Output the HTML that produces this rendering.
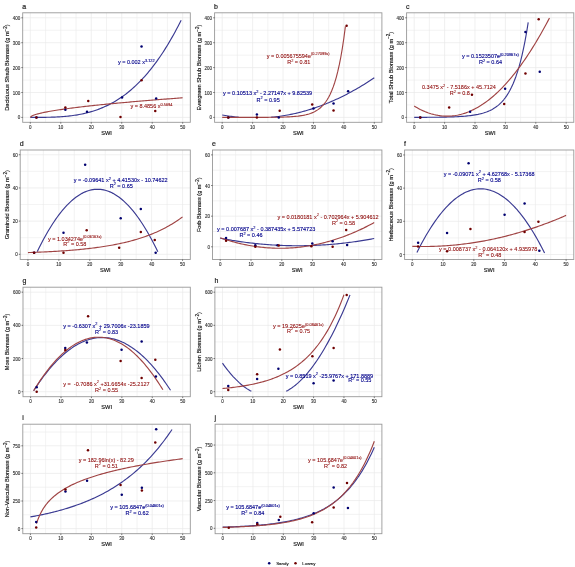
<!DOCTYPE html>
<html><head><meta charset="utf-8"><style>
html,body{margin:0;padding:0;background:#fff;}
body{width:575px;height:567px;overflow:hidden;font-family:"Liberation Sans", sans-serif;}
svg{display:block;filter:blur(0.4px);}
text{font-family:"Liberation Sans", sans-serif;}
</style></head><body>
<svg width="575" height="567" viewBox="0 0 575 567" font-family='"Liberation Sans", sans-serif'><clipPath id="ca"><rect x="22.70" y="12.80" width="167.60" height="109.50"/></clipPath>
<g stroke="#e9e9e9"><line x1="22.70" x2="190.30" y1="117.40" y2="117.40" stroke-width="0.7"/><line x1="22.70" x2="190.30" y1="104.95" y2="104.95" stroke-width="0.55"/><line x1="22.70" x2="190.30" y1="92.50" y2="92.50" stroke-width="0.7"/><line x1="22.70" x2="190.30" y1="80.05" y2="80.05" stroke-width="0.55"/><line x1="22.70" x2="190.30" y1="67.60" y2="67.60" stroke-width="0.7"/><line x1="22.70" x2="190.30" y1="55.15" y2="55.15" stroke-width="0.55"/><line x1="22.70" x2="190.30" y1="42.70" y2="42.70" stroke-width="0.7"/><line x1="22.70" x2="190.30" y1="30.25" y2="30.25" stroke-width="0.55"/><line x1="22.70" x2="190.30" y1="17.80" y2="17.80" stroke-width="0.7"/><line y1="12.80" y2="122.30" x1="30.32" x2="30.32" stroke-width="0.7"/><line y1="12.80" y2="122.30" x1="45.55" x2="45.55" stroke-width="0.55"/><line y1="12.80" y2="122.30" x1="60.79" x2="60.79" stroke-width="0.7"/><line y1="12.80" y2="122.30" x1="76.03" x2="76.03" stroke-width="0.55"/><line y1="12.80" y2="122.30" x1="91.26" x2="91.26" stroke-width="0.7"/><line y1="12.80" y2="122.30" x1="106.50" x2="106.50" stroke-width="0.55"/><line y1="12.80" y2="122.30" x1="121.74" x2="121.74" stroke-width="0.7"/><line y1="12.80" y2="122.30" x1="136.97" x2="136.97" stroke-width="0.55"/><line y1="12.80" y2="122.30" x1="152.21" x2="152.21" stroke-width="0.7"/><line y1="12.80" y2="122.30" x1="167.45" x2="167.45" stroke-width="0.55"/><line y1="12.80" y2="122.30" x1="182.68" x2="182.68" stroke-width="0.7"/></g>
<path d="M30.32,117.40 L31.84,117.40 L33.37,117.40 L34.89,117.40 L36.41,117.40 L37.94,117.39 L39.46,117.38 L40.98,117.38 L42.51,117.36 L44.03,117.35 L45.55,117.32 L47.08,117.30 L48.60,117.27 L50.13,117.23 L51.65,117.18 L53.17,117.13 L54.70,117.07 L56.22,117.00 L57.74,116.93 L59.27,116.84 L60.79,116.74 L62.31,116.63 L63.84,116.51 L65.36,116.38 L66.89,116.23 L68.41,116.08 L69.93,115.90 L71.46,115.72 L72.98,115.51 L74.50,115.30 L76.03,115.06 L77.55,114.81 L79.07,114.54 L80.60,114.25 L82.12,113.94 L83.65,113.62 L85.17,113.27 L86.69,112.90 L88.22,112.51 L89.74,112.09 L91.26,111.66 L92.79,111.20 L94.31,110.71 L95.83,110.20 L97.36,109.67 L98.88,109.11 L100.41,108.52 L101.93,107.90 L103.45,107.26 L104.98,106.58 L106.50,105.88 L108.02,105.14 L109.55,104.38 L111.07,103.58 L112.59,102.75 L114.12,101.88 L115.64,100.98 L117.17,100.05 L118.69,99.08 L120.21,98.08 L121.74,97.04 L123.26,95.96 L124.78,94.84 L126.31,93.69 L127.83,92.49 L129.35,91.26 L130.88,89.98 L132.40,88.66 L133.93,87.30 L135.45,85.90 L136.97,84.45 L138.50,82.96 L140.02,81.42 L141.54,79.84 L143.07,78.21 L144.59,76.53 L146.11,74.81 L147.64,73.04 L149.16,71.21 L150.69,69.34 L152.21,67.41 L153.73,65.44 L155.26,63.41 L156.78,61.32 L158.30,59.19 L159.83,57.00 L161.35,54.75 L162.87,52.45 L164.40,50.09 L165.92,47.67 L167.45,45.20 L168.97,42.66 L170.49,40.07 L172.02,37.41 L173.54,34.70 L175.06,31.92 L176.59,29.08 L178.11,26.17 L179.63,23.21 L181.16,20.17" fill="none" stroke="#3a3a92" stroke-width="1.15" stroke-linejoin="round" clip-path="url(#ca)"/>
<path d="M30.32,117.40 L31.84,115.98 L33.37,115.29 L34.89,114.74 L36.41,114.26 L37.94,113.84 L39.46,113.45 L40.98,113.09 L42.51,112.75 L44.03,112.42 L45.55,112.12 L47.08,111.82 L48.60,111.54 L50.13,111.27 L51.65,111.00 L53.17,110.75 L54.70,110.50 L56.22,110.25 L57.74,110.02 L59.27,109.79 L60.79,109.56 L62.31,109.34 L63.84,109.12 L65.36,108.91 L66.89,108.70 L68.41,108.50 L69.93,108.30 L71.46,108.10 L72.98,107.91 L74.50,107.71 L76.03,107.52 L77.55,107.34 L79.07,107.16 L80.60,106.97 L82.12,106.80 L83.65,106.62 L85.17,106.44 L86.69,106.27 L88.22,106.10 L89.74,105.93 L91.26,105.77 L92.79,105.60 L94.31,105.44 L95.83,105.28 L97.36,105.12 L98.88,104.96 L100.41,104.80 L101.93,104.65 L103.45,104.49 L104.98,104.34 L106.50,104.19 L108.02,104.04 L109.55,103.89 L111.07,103.75 L112.59,103.60 L114.12,103.45 L115.64,103.31 L117.17,103.17 L118.69,103.03 L120.21,102.89 L121.74,102.75 L123.26,102.61 L124.78,102.47 L126.31,102.33 L127.83,102.20 L129.35,102.06 L130.88,101.93 L132.40,101.80 L133.93,101.66 L135.45,101.53 L136.97,101.40 L138.50,101.27 L140.02,101.14 L141.54,101.01 L143.07,100.89 L144.59,100.76 L146.11,100.63 L147.64,100.51 L149.16,100.38 L150.69,100.26 L152.21,100.14 L153.73,100.02 L155.26,99.89 L156.78,99.77 L158.30,99.65 L159.83,99.53 L161.35,99.41 L162.87,99.29 L164.40,99.18 L165.92,99.06 L167.45,98.94 L168.97,98.82 L170.49,98.71 L172.02,98.59 L173.54,98.48 L175.06,98.36 L176.59,98.25 L178.11,98.14 L179.63,98.02 L181.16,97.91 L182.68,97.80" fill="none" stroke="#a04444" stroke-width="1.15" stroke-linejoin="round" clip-path="url(#ca)"/>
<circle cx="36.41" cy="117.40" r="1.25" fill="#000070"/>
<circle cx="65.36" cy="109.68" r="1.25" fill="#000070"/>
<circle cx="87.00" cy="111.67" r="1.25" fill="#000070"/>
<circle cx="122.04" cy="97.48" r="1.25" fill="#000070"/>
<circle cx="141.54" cy="46.44" r="1.25" fill="#000070"/>
<circle cx="156.17" cy="98.48" r="1.25" fill="#000070"/>
<circle cx="36.41" cy="117.40" r="1.25" fill="#700000"/>
<circle cx="65.36" cy="107.44" r="1.25" fill="#700000"/>
<circle cx="88.22" cy="100.97" r="1.25" fill="#700000"/>
<circle cx="120.52" cy="117.00" r="1.25" fill="#700000"/>
<circle cx="141.54" cy="80.30" r="1.25" fill="#700000"/>
<circle cx="155.26" cy="110.93" r="1.25" fill="#700000"/>
<rect x="22.70" y="12.80" width="167.60" height="109.50" fill="none" stroke="#999999" stroke-width="0.9"/>
<g stroke="#222222" stroke-width="0.6"><line x1="21.30" x2="22.70" y1="117.40" y2="117.40"/><line x1="21.30" x2="22.70" y1="92.50" y2="92.50"/><line x1="21.30" x2="22.70" y1="67.60" y2="67.60"/><line x1="21.30" x2="22.70" y1="42.70" y2="42.70"/><line x1="21.30" x2="22.70" y1="17.80" y2="17.80"/><line y1="122.30" y2="123.70" x1="30.32" x2="30.32"/><line y1="122.30" y2="123.70" x1="60.79" x2="60.79"/><line y1="122.30" y2="123.70" x1="91.26" x2="91.26"/><line y1="122.30" y2="123.70" x1="121.74" x2="121.74"/><line y1="122.30" y2="123.70" x1="152.21" x2="152.21"/><line y1="122.30" y2="123.70" x1="182.68" x2="182.68"/></g>
<g font-size="4.5" fill="#333333" stroke="#333333" stroke-width="0.12"><text x="20.20" y="119.40" text-anchor="end">0</text><text x="20.20" y="94.50" text-anchor="end">100</text><text x="20.20" y="69.60" text-anchor="end">200</text><text x="20.20" y="44.70" text-anchor="end">300</text><text x="20.20" y="19.80" text-anchor="end">400</text><text x="30.32" y="128.60" text-anchor="middle">0</text><text x="60.79" y="128.60" text-anchor="middle">10</text><text x="91.26" y="128.60" text-anchor="middle">20</text><text x="121.74" y="128.60" text-anchor="middle">30</text><text x="152.21" y="128.60" text-anchor="middle">40</text><text x="182.68" y="128.60" text-anchor="middle">50</text></g>
<text x="106.50" y="134.50" text-anchor="middle" font-size="5.65" fill="#111111" stroke="#111111" stroke-width="0.15">SWI</text>
<text transform="translate(9.20,67.55) rotate(-90)" text-anchor="middle" font-size="5.65" fill="#111111" stroke="#111111" stroke-width="0.15">Deciduous Shrub Biomass (g m<tspan font-size="4.5" dy="-2.2">&#8722;2</tspan><tspan dy="2.2">)</tspan></text>
<text x="22.20" y="8.90" font-size="7" fill="#222" stroke="#222" stroke-width="0.2">a</text>
<text x="117.90" y="63.90" font-size="5.5" fill="#00008b" stroke="#00008b" stroke-width="0.13"><tspan>y&#160;=&#160;0.002&#160;x</tspan><tspan font-size="3.9" dy="-2.4">3.122</tspan></text>
<text x="130.40" y="108.20" font-size="5.5" fill="#8b0000" stroke="#8b0000" stroke-width="0.08"><tspan>y&#160;=&#160;8.4856&#160;x</tspan><tspan font-size="3.9" dy="-2.4">0.5694</tspan></text>
<clipPath id="cb"><rect x="214.60" y="12.80" width="167.30" height="109.50"/></clipPath>
<g stroke="#e9e9e9"><line x1="214.60" x2="381.90" y1="117.40" y2="117.40" stroke-width="0.7"/><line x1="214.60" x2="381.90" y1="104.95" y2="104.95" stroke-width="0.55"/><line x1="214.60" x2="381.90" y1="92.50" y2="92.50" stroke-width="0.7"/><line x1="214.60" x2="381.90" y1="80.05" y2="80.05" stroke-width="0.55"/><line x1="214.60" x2="381.90" y1="67.60" y2="67.60" stroke-width="0.7"/><line x1="214.60" x2="381.90" y1="55.15" y2="55.15" stroke-width="0.55"/><line x1="214.60" x2="381.90" y1="42.70" y2="42.70" stroke-width="0.7"/><line x1="214.60" x2="381.90" y1="30.25" y2="30.25" stroke-width="0.55"/><line x1="214.60" x2="381.90" y1="17.80" y2="17.80" stroke-width="0.7"/><line y1="12.80" y2="122.30" x1="222.20" x2="222.20" stroke-width="0.7"/><line y1="12.80" y2="122.30" x1="237.41" x2="237.41" stroke-width="0.55"/><line y1="12.80" y2="122.30" x1="252.62" x2="252.62" stroke-width="0.7"/><line y1="12.80" y2="122.30" x1="267.83" x2="267.83" stroke-width="0.55"/><line y1="12.80" y2="122.30" x1="283.04" x2="283.04" stroke-width="0.7"/><line y1="12.80" y2="122.30" x1="298.25" x2="298.25" stroke-width="0.55"/><line y1="12.80" y2="122.30" x1="313.46" x2="313.46" stroke-width="0.7"/><line y1="12.80" y2="122.30" x1="328.67" x2="328.67" stroke-width="0.55"/><line y1="12.80" y2="122.30" x1="343.88" x2="343.88" stroke-width="0.7"/><line y1="12.80" y2="122.30" x1="359.09" x2="359.09" stroke-width="0.55"/><line y1="12.80" y2="122.30" x1="374.30" x2="374.30" stroke-width="0.7"/></g>
<path d="M222.20,114.95 L223.73,115.23 L225.25,115.49 L226.77,115.74 L228.29,115.98 L229.81,116.20 L231.33,116.41 L232.85,116.61 L234.37,116.80 L235.89,116.97 L237.41,117.13 L238.93,117.27M270.87,117.30 L272.39,117.16 L273.92,117.00 L275.44,116.83 L276.96,116.65 L278.48,116.46 L280.00,116.25 L281.52,116.03 L283.04,115.79 L284.56,115.55 L286.08,115.29 L287.60,115.01 L289.12,114.73 L290.65,114.43 L292.17,114.11 L293.69,113.79 L295.21,113.45 L296.73,113.10 L298.25,112.73 L299.77,112.35 L301.29,111.96 L302.81,111.56 L304.33,111.14 L305.85,110.71 L307.38,110.27 L308.90,109.81 L310.42,109.34 L311.94,108.86 L313.46,108.36 L314.98,107.85 L316.50,107.33 L318.02,106.80 L319.54,106.25 L321.06,105.69 L322.58,105.11 L324.11,104.52 L325.63,103.92 L327.15,103.31 L328.67,102.68 L330.19,102.04 L331.71,101.39 L333.23,100.72 L334.75,100.04 L336.27,99.35 L337.79,98.65 L339.31,97.93 L340.84,97.20 L342.36,96.45 L343.88,95.69 L345.40,94.92 L346.92,94.14 L348.44,93.34 L349.96,92.53 L351.48,91.71 L353.00,90.87 L354.52,90.02 L356.04,89.16 L357.57,88.28 L359.09,87.40 L360.61,86.49 L362.13,85.58 L363.65,84.65 L365.17,83.71 L366.69,82.76 L368.21,81.79 L369.73,80.81 L371.25,79.82 L372.77,78.81 L374.30,77.79" fill="none" stroke="#3a3a92" stroke-width="1.15" stroke-linejoin="round" clip-path="url(#cb)"/>
<path d="M222.20,117.40 L223.73,117.40 L225.25,117.40 L226.77,117.40 L228.29,117.40 L229.81,117.40 L231.33,117.40 L232.85,117.40 L234.37,117.40 L235.89,117.40 L237.41,117.39 L238.93,117.39 L240.46,117.39 L241.98,117.39 L243.50,117.39 L245.02,117.39 L246.54,117.39 L248.06,117.39 L249.58,117.38 L251.10,117.38 L252.62,117.38 L254.14,117.38 L255.66,117.37 L257.19,117.37 L258.71,117.36 L260.23,117.36 L261.75,117.35 L263.27,117.34 L264.79,117.34 L266.31,117.33 L267.83,117.31 L269.35,117.30 L270.87,117.29 L272.39,117.27 L273.92,117.25 L275.44,117.23 L276.96,117.21 L278.48,117.18 L280.00,117.15 L281.52,117.11 L283.04,117.07 L284.56,117.02 L286.08,116.96 L287.60,116.90 L289.12,116.82 L290.65,116.74 L292.17,116.64 L293.69,116.53 L295.21,116.40 L296.73,116.25 L298.25,116.09 L299.77,115.89 L301.29,115.67 L302.81,115.42 L304.33,115.13 L305.85,114.80 L307.38,114.42 L308.90,113.98 L310.42,113.48 L311.94,112.90 L313.46,112.24 L314.98,111.49 L316.50,110.62 L318.02,109.63 L319.54,108.49 L321.06,107.19 L322.58,105.69 L324.11,103.98 L325.63,102.01 L327.15,99.75 L328.67,97.17 L330.19,94.21 L331.71,90.81 L333.23,86.91 L334.75,82.45 L336.27,77.33 L337.79,71.46 L339.31,64.73 L340.84,57.01 L342.36,48.17 L343.88,38.02 L345.40,26.40" fill="none" stroke="#a04444" stroke-width="1.15" stroke-linejoin="round" clip-path="url(#cb)"/>
<circle cx="228.29" cy="117.40" r="1.25" fill="#000070"/>
<circle cx="256.88" cy="114.41" r="1.25" fill="#000070"/>
<circle cx="278.78" cy="117.40" r="1.25" fill="#000070"/>
<circle cx="313.46" cy="108.44" r="1.25" fill="#000070"/>
<circle cx="333.54" cy="103.46" r="1.25" fill="#000070"/>
<circle cx="348.14" cy="91.26" r="1.25" fill="#000070"/>
<circle cx="228.29" cy="117.40" r="1.25" fill="#700000"/>
<circle cx="256.88" cy="117.40" r="1.25" fill="#700000"/>
<circle cx="279.69" cy="110.68" r="1.25" fill="#700000"/>
<circle cx="312.24" cy="104.45" r="1.25" fill="#700000"/>
<circle cx="333.54" cy="110.43" r="1.25" fill="#700000"/>
<circle cx="346.61" cy="25.77" r="1.25" fill="#700000"/>
<rect x="214.60" y="12.80" width="167.30" height="109.50" fill="none" stroke="#999999" stroke-width="0.9"/>
<g stroke="#222222" stroke-width="0.6"><line x1="213.20" x2="214.60" y1="117.40" y2="117.40"/><line x1="213.20" x2="214.60" y1="92.50" y2="92.50"/><line x1="213.20" x2="214.60" y1="67.60" y2="67.60"/><line x1="213.20" x2="214.60" y1="42.70" y2="42.70"/><line x1="213.20" x2="214.60" y1="17.80" y2="17.80"/><line y1="122.30" y2="123.70" x1="222.20" x2="222.20"/><line y1="122.30" y2="123.70" x1="252.62" x2="252.62"/><line y1="122.30" y2="123.70" x1="283.04" x2="283.04"/><line y1="122.30" y2="123.70" x1="313.46" x2="313.46"/><line y1="122.30" y2="123.70" x1="343.88" x2="343.88"/><line y1="122.30" y2="123.70" x1="374.30" x2="374.30"/></g>
<g font-size="4.5" fill="#333333" stroke="#333333" stroke-width="0.12"><text x="212.10" y="119.40" text-anchor="end">0</text><text x="212.10" y="94.50" text-anchor="end">100</text><text x="212.10" y="69.60" text-anchor="end">200</text><text x="212.10" y="44.70" text-anchor="end">300</text><text x="212.10" y="19.80" text-anchor="end">400</text><text x="222.20" y="128.60" text-anchor="middle">0</text><text x="252.62" y="128.60" text-anchor="middle">10</text><text x="283.04" y="128.60" text-anchor="middle">20</text><text x="313.46" y="128.60" text-anchor="middle">30</text><text x="343.88" y="128.60" text-anchor="middle">40</text><text x="374.30" y="128.60" text-anchor="middle">50</text></g>
<text x="298.25" y="134.50" text-anchor="middle" font-size="5.65" fill="#111111" stroke="#111111" stroke-width="0.15">SWI</text>
<text transform="translate(200.87,67.55) rotate(-90)" text-anchor="middle" font-size="5.65" fill="#111111" stroke="#111111" stroke-width="0.15">Evergreen Shrub Biomass (g m<tspan font-size="4.5" dy="-2.2">&#8722;2</tspan><tspan dy="2.2">)</tspan></text>
<text x="214.10" y="8.90" font-size="7" fill="#222" stroke="#222" stroke-width="0.2">b</text>
<text x="223.10" y="95.40" font-size="5.5" fill="#00008b" stroke="#00008b" stroke-width="0.13"><tspan>y&#160;=&#160;0.10513&#160;x</tspan><tspan font-size="3.9" dy="-2.4">2</tspan><tspan dy="2.4">&#160;-&#160;2.27147x&#160;+&#160;9.82539</tspan></text>
<text x="256.60" y="101.50" font-size="5.5" fill="#00008b" stroke="#00008b" stroke-width="0.13"><tspan>R</tspan><tspan font-size="3.9" dy="-2.4">2</tspan><tspan dy="2.4">&#160;=&#160;0.95</tspan></text>
<text x="266.80" y="57.60" font-size="5.5" fill="#8b0000" stroke="#8b0000" stroke-width="0.08"><tspan>y&#160;=&#160;0.005675594e</tspan><tspan font-size="3.9" dy="-2.4">(0.27099x)</tspan></text>
<text x="287.20" y="64.00" font-size="5.5" fill="#8b0000" stroke="#8b0000" stroke-width="0.08"><tspan>R</tspan><tspan font-size="3.9" dy="-2.4">2</tspan><tspan dy="2.4">&#160;=&#160;0.81</tspan></text>
<clipPath id="cc"><rect x="406.60" y="12.80" width="167.20" height="109.50"/></clipPath>
<g stroke="#e9e9e9"><line x1="406.60" x2="573.80" y1="117.40" y2="117.40" stroke-width="0.7"/><line x1="406.60" x2="573.80" y1="104.95" y2="104.95" stroke-width="0.55"/><line x1="406.60" x2="573.80" y1="92.50" y2="92.50" stroke-width="0.7"/><line x1="406.60" x2="573.80" y1="80.05" y2="80.05" stroke-width="0.55"/><line x1="406.60" x2="573.80" y1="67.60" y2="67.60" stroke-width="0.7"/><line x1="406.60" x2="573.80" y1="55.15" y2="55.15" stroke-width="0.55"/><line x1="406.60" x2="573.80" y1="42.70" y2="42.70" stroke-width="0.7"/><line x1="406.60" x2="573.80" y1="30.25" y2="30.25" stroke-width="0.55"/><line x1="406.60" x2="573.80" y1="17.80" y2="17.80" stroke-width="0.7"/><line y1="12.80" y2="122.30" x1="414.20" x2="414.20" stroke-width="0.7"/><line y1="12.80" y2="122.30" x1="429.40" x2="429.40" stroke-width="0.55"/><line y1="12.80" y2="122.30" x1="444.60" x2="444.60" stroke-width="0.7"/><line y1="12.80" y2="122.30" x1="459.80" x2="459.80" stroke-width="0.55"/><line y1="12.80" y2="122.30" x1="475.00" x2="475.00" stroke-width="0.7"/><line y1="12.80" y2="122.30" x1="490.20" x2="490.20" stroke-width="0.55"/><line y1="12.80" y2="122.30" x1="505.40" x2="505.40" stroke-width="0.7"/><line y1="12.80" y2="122.30" x1="520.60" x2="520.60" stroke-width="0.55"/><line y1="12.80" y2="122.30" x1="535.80" x2="535.80" stroke-width="0.7"/><line y1="12.80" y2="122.30" x1="551.00" x2="551.00" stroke-width="0.55"/><line y1="12.80" y2="122.30" x1="566.20" x2="566.20" stroke-width="0.7"/></g>
<path d="M414.20,117.36 L415.72,117.36 L417.24,117.35 L418.76,117.35 L420.28,117.34 L421.80,117.34 L423.32,117.33 L424.84,117.32 L426.36,117.31 L427.88,117.30 L429.40,117.29 L430.92,117.28 L432.44,117.27 L433.96,117.25 L435.48,117.24 L437.00,117.22 L438.52,117.20 L440.04,117.18 L441.56,117.15 L443.08,117.12 L444.60,117.09 L446.12,117.06 L447.64,117.02 L449.16,116.98 L450.68,116.94 L452.20,116.88 L453.72,116.83 L455.24,116.77 L456.76,116.70 L458.28,116.62 L459.80,116.53 L461.32,116.44 L462.84,116.33 L464.36,116.21 L465.88,116.08 L467.40,115.94 L468.92,115.78 L470.44,115.60 L471.96,115.40 L473.48,115.18 L475.00,114.94 L476.52,114.67 L478.04,114.37 L479.56,114.03 L481.08,113.66 L482.60,113.25 L484.12,112.79 L485.64,112.29 L487.16,111.72 L488.68,111.10 L490.20,110.41 L491.72,109.64 L493.24,108.78 L494.76,107.84 L496.28,106.79 L497.80,105.62 L499.32,104.32 L500.84,102.88 L502.36,101.29 L503.88,99.52 L505.40,97.55 L506.92,95.37 L508.44,92.94 L509.96,90.25 L511.48,87.27 L513.00,83.95 L514.52,80.28 L516.04,76.19 L517.56,71.66 L519.08,66.63 L520.60,61.05 L522.12,54.85 L523.64,47.97 L525.16,40.34 L526.68,31.87 L528.20,22.46" fill="none" stroke="#3a3a92" stroke-width="1.15" stroke-linejoin="round" clip-path="url(#cc)"/>
<path d="M414.20,106.02 L415.72,106.93 L417.24,107.80 L418.76,108.63 L420.28,109.42 L421.80,110.16 L423.32,110.86 L424.84,111.51 L426.36,112.12 L427.88,112.69 L429.40,113.22 L430.92,113.70 L432.44,114.14 L433.96,114.53 L435.48,114.88 L437.00,115.19 L438.52,115.46 L440.04,115.68 L441.56,115.86 L443.08,115.99 L444.60,116.09 L446.12,116.14 L447.64,116.14 L449.16,116.10 L450.68,116.02 L452.20,115.90 L453.72,115.73 L455.24,115.52 L456.76,115.27 L458.28,114.97 L459.80,114.63 L461.32,114.25 L462.84,113.82 L464.36,113.35 L465.88,112.84 L467.40,112.28 L468.92,111.68 L470.44,111.04 L471.96,110.35 L473.48,109.62 L475.00,108.85 L476.52,108.03 L478.04,107.17 L479.56,106.27 L481.08,105.33 L482.60,104.34 L484.12,103.30 L485.64,102.23 L487.16,101.11 L488.68,99.95 L490.20,98.74 L491.72,97.49 L493.24,96.20 L494.76,94.87 L496.28,93.49 L497.80,92.06 L499.32,90.60 L500.84,89.09 L502.36,87.54 L503.88,85.94 L505.40,84.31 L506.92,82.63 L508.44,80.90 L509.96,79.13 L511.48,77.32 L513.00,75.47 L514.52,73.57 L516.04,71.63 L517.56,69.64 L519.08,67.62 L520.60,65.55 L522.12,63.43 L523.64,61.27 L525.16,59.07 L526.68,56.83 L528.20,54.54 L529.72,52.21 L531.24,49.84 L532.76,47.42 L534.28,44.96 L535.80,42.46 L537.32,39.91 L538.84,37.32 L540.36,34.69 L541.88,32.01 L543.40,29.29 L544.92,26.53 L546.44,23.72 L547.96,20.87 L549.48,17.98" fill="none" stroke="#a04444" stroke-width="1.15" stroke-linejoin="round" clip-path="url(#cc)"/>
<circle cx="420.28" cy="117.40" r="1.25" fill="#000070"/>
<circle cx="470.14" cy="111.67" r="1.25" fill="#000070"/>
<circle cx="505.10" cy="88.77" r="1.25" fill="#000070"/>
<circle cx="525.46" cy="31.99" r="1.25" fill="#000070"/>
<circle cx="539.75" cy="71.83" r="1.25" fill="#000070"/>
<circle cx="420.28" cy="117.40" r="1.25" fill="#700000"/>
<circle cx="449.16" cy="107.44" r="1.25" fill="#700000"/>
<circle cx="471.96" cy="94.74" r="1.25" fill="#700000"/>
<circle cx="504.18" cy="103.95" r="1.25" fill="#700000"/>
<circle cx="525.46" cy="73.58" r="1.25" fill="#700000"/>
<circle cx="538.69" cy="19.29" r="1.25" fill="#700000"/>
<rect x="406.60" y="12.80" width="167.20" height="109.50" fill="none" stroke="#999999" stroke-width="0.9"/>
<g stroke="#222222" stroke-width="0.6"><line x1="405.20" x2="406.60" y1="117.40" y2="117.40"/><line x1="405.20" x2="406.60" y1="92.50" y2="92.50"/><line x1="405.20" x2="406.60" y1="67.60" y2="67.60"/><line x1="405.20" x2="406.60" y1="42.70" y2="42.70"/><line x1="405.20" x2="406.60" y1="17.80" y2="17.80"/><line y1="122.30" y2="123.70" x1="414.20" x2="414.20"/><line y1="122.30" y2="123.70" x1="444.60" x2="444.60"/><line y1="122.30" y2="123.70" x1="475.00" x2="475.00"/><line y1="122.30" y2="123.70" x1="505.40" x2="505.40"/><line y1="122.30" y2="123.70" x1="535.80" x2="535.80"/><line y1="122.30" y2="123.70" x1="566.20" x2="566.20"/></g>
<g font-size="4.5" fill="#333333" stroke="#333333" stroke-width="0.12"><text x="404.10" y="119.40" text-anchor="end">0</text><text x="404.10" y="94.50" text-anchor="end">100</text><text x="404.10" y="69.60" text-anchor="end">200</text><text x="404.10" y="44.70" text-anchor="end">300</text><text x="404.10" y="19.80" text-anchor="end">400</text><text x="414.20" y="128.60" text-anchor="middle">0</text><text x="444.60" y="128.60" text-anchor="middle">10</text><text x="475.00" y="128.60" text-anchor="middle">20</text><text x="505.40" y="128.60" text-anchor="middle">30</text><text x="535.80" y="128.60" text-anchor="middle">40</text><text x="566.20" y="128.60" text-anchor="middle">50</text></g>
<text x="490.20" y="134.50" text-anchor="middle" font-size="5.65" fill="#111111" stroke="#111111" stroke-width="0.15">SWI</text>
<text transform="translate(392.53,67.55) rotate(-90)" text-anchor="middle" font-size="5.65" fill="#111111" stroke="#111111" stroke-width="0.15">Total Shrub Biomass (g m<tspan font-size="4.5" dy="-2.2">&#8722;2</tspan><tspan dy="2.2">)</tspan></text>
<text x="406.10" y="8.90" font-size="7" fill="#222" stroke="#222" stroke-width="0.2">c</text>
<text x="462.00" y="58.30" font-size="5.5" fill="#00008b" stroke="#00008b" stroke-width="0.13"><tspan>y&#160;=&#160;0.1523507e</tspan><tspan font-size="3.9" dy="-2.4">(0.20867x)</tspan></text>
<text x="478.90" y="64.10" font-size="5.5" fill="#00008b" stroke="#00008b" stroke-width="0.13"><tspan>R</tspan><tspan font-size="3.9" dy="-2.4">2</tspan><tspan dy="2.4">&#160;=&#160;0.64</tspan></text>
<text x="422.00" y="89.10" font-size="5.5" fill="#8b0000" stroke="#8b0000" stroke-width="0.08"><tspan>0.3475&#160;x</tspan><tspan font-size="3.9" dy="-2.4">2</tspan><tspan dy="2.4">&#160;-&#160;7.5186x&#160;+&#160;45.7124</tspan></text>
<text x="449.80" y="95.30" font-size="5.5" fill="#8b0000" stroke="#8b0000" stroke-width="0.08"><tspan>R</tspan><tspan font-size="3.9" dy="-2.4">2</tspan><tspan dy="2.4">&#160;=&#160;0.8</tspan></text>
<clipPath id="cd"><rect x="20.20" y="150.00" width="170.10" height="109.50"/></clipPath>
<g stroke="#e9e9e9"><line x1="20.20" x2="190.30" y1="254.30" y2="254.30" stroke-width="0.7"/><line x1="20.20" x2="190.30" y1="237.71" y2="237.71" stroke-width="0.55"/><line x1="20.20" x2="190.30" y1="221.12" y2="221.12" stroke-width="0.7"/><line x1="20.20" x2="190.30" y1="204.53" y2="204.53" stroke-width="0.55"/><line x1="20.20" x2="190.30" y1="187.94" y2="187.94" stroke-width="0.7"/><line x1="20.20" x2="190.30" y1="171.35" y2="171.35" stroke-width="0.55"/><line x1="20.20" x2="190.30" y1="154.76" y2="154.76" stroke-width="0.7"/><line y1="150.00" y2="259.50" x1="27.93" x2="27.93" stroke-width="0.7"/><line y1="150.00" y2="259.50" x1="43.40" x2="43.40" stroke-width="0.55"/><line y1="150.00" y2="259.50" x1="58.86" x2="58.86" stroke-width="0.7"/><line y1="150.00" y2="259.50" x1="74.32" x2="74.32" stroke-width="0.55"/><line y1="150.00" y2="259.50" x1="89.79" x2="89.79" stroke-width="0.7"/><line y1="150.00" y2="259.50" x1="105.25" x2="105.25" stroke-width="0.55"/><line y1="150.00" y2="259.50" x1="120.71" x2="120.71" stroke-width="0.7"/><line y1="150.00" y2="259.50" x1="136.18" x2="136.18" stroke-width="0.55"/><line y1="150.00" y2="259.50" x1="151.64" x2="151.64" stroke-width="0.7"/><line y1="150.00" y2="259.50" x1="167.10" x2="167.10" stroke-width="0.55"/><line y1="150.00" y2="259.50" x1="182.57" x2="182.57" stroke-width="0.7"/></g>
<path d="M37.21,251.72 L38.76,248.56 L40.30,245.48 L41.85,242.48 L43.40,239.57 L44.94,236.73 L46.49,233.98 L48.03,231.31 L49.58,228.73 L51.13,226.22 L52.67,223.80 L54.22,221.46 L55.77,219.20 L57.31,217.02 L58.86,214.93 L60.41,212.92 L61.95,210.99 L63.50,209.14 L65.04,207.37 L66.59,205.69 L68.14,204.09 L69.68,202.57 L71.23,201.13 L72.78,199.78 L74.32,198.51 L75.87,197.32 L77.42,196.21 L78.96,195.18 L80.51,194.24 L82.05,193.37 L83.60,192.59 L85.15,191.90 L86.69,191.28 L88.24,190.75 L89.79,190.29 L91.33,189.92 L92.88,189.64 L94.43,189.43 L95.97,189.31 L97.52,189.27 L99.06,189.31 L100.61,189.43 L102.16,189.64 L103.70,189.92 L105.25,190.29 L106.80,190.75 L108.34,191.28 L109.89,191.90 L111.44,192.59 L112.98,193.37 L114.53,194.24 L116.07,195.18 L117.62,196.21 L119.17,197.32 L120.71,198.51 L122.26,199.78 L123.81,201.13 L125.35,202.57 L126.90,204.09 L128.45,205.69 L129.99,207.37 L131.54,209.14 L133.08,210.99 L134.63,212.92 L136.18,214.93 L137.72,217.02 L139.27,219.20 L140.82,221.46 L142.36,223.80 L143.91,226.22 L145.46,228.73 L147.00,231.31 L148.55,233.98 L150.09,236.73 L151.64,239.57 L153.19,242.48 L154.73,245.48 L156.28,248.56 L157.83,251.72" fill="none" stroke="#3a3a92" stroke-width="1.15" stroke-linejoin="round" clip-path="url(#cd)"/>
<path d="M27.93,252.58 L29.48,252.53 L31.02,252.48 L32.57,252.42 L34.12,252.36 L35.66,252.30 L37.21,252.24 L38.76,252.17 L40.30,252.10 L41.85,252.04 L43.40,251.96 L44.94,251.89 L46.49,251.82 L48.03,251.74 L49.58,251.66 L51.13,251.58 L52.67,251.49 L54.22,251.40 L55.77,251.31 L57.31,251.22 L58.86,251.12 L60.41,251.02 L61.95,250.92 L63.50,250.81 L65.04,250.71 L66.59,250.59 L68.14,250.48 L69.68,250.36 L71.23,250.23 L72.78,250.11 L74.32,249.98 L75.87,249.84 L77.42,249.70 L78.96,249.56 L80.51,249.41 L82.05,249.25 L83.60,249.10 L85.15,248.93 L86.69,248.77 L88.24,248.59 L89.79,248.41 L91.33,248.23 L92.88,248.04 L94.43,247.84 L95.97,247.64 L97.52,247.43 L99.06,247.22 L100.61,247.00 L102.16,246.77 L103.70,246.53 L105.25,246.29 L106.80,246.04 L108.34,245.78 L109.89,245.51 L111.44,245.24 L112.98,244.96 L114.53,244.66 L116.07,244.36 L117.62,244.05 L119.17,243.73 L120.71,243.40 L122.26,243.06 L123.81,242.71 L125.35,242.34 L126.90,241.97 L128.45,241.58 L129.99,241.19 L131.54,240.78 L133.08,240.35 L134.63,239.92 L136.18,239.47 L137.72,239.00 L139.27,238.52 L140.82,238.03 L142.36,237.52 L143.91,236.99 L145.46,236.45 L147.00,235.89 L148.55,235.32 L150.09,234.72 L151.64,234.11 L153.19,233.48 L154.73,232.83 L156.28,232.16 L157.83,231.46 L159.37,230.75 L160.92,230.01 L162.47,229.25 L164.01,228.47 L165.56,227.66 L167.10,226.83 L168.65,225.97 L170.20,225.08 L171.74,224.16 L173.29,223.22 L174.84,222.25 L176.38,221.25 L177.93,220.21 L179.48,219.14 L181.02,218.04 L182.57,216.91" fill="none" stroke="#a04444" stroke-width="1.15" stroke-linejoin="round" clip-path="url(#cd)"/>
<circle cx="34.12" cy="252.64" r="1.25" fill="#000070"/>
<circle cx="63.50" cy="232.73" r="1.25" fill="#000070"/>
<circle cx="85.15" cy="164.71" r="1.25" fill="#000070"/>
<circle cx="120.71" cy="218.30" r="1.25" fill="#000070"/>
<circle cx="140.82" cy="209.01" r="1.25" fill="#000070"/>
<circle cx="155.66" cy="252.81" r="1.25" fill="#000070"/>
<circle cx="34.12" cy="252.64" r="1.25" fill="#700000"/>
<circle cx="63.50" cy="252.64" r="1.25" fill="#700000"/>
<circle cx="86.69" cy="230.24" r="1.25" fill="#700000"/>
<circle cx="119.17" cy="247.66" r="1.25" fill="#700000"/>
<circle cx="140.82" cy="232.07" r="1.25" fill="#700000"/>
<circle cx="154.73" cy="240.03" r="1.25" fill="#700000"/>
<rect x="20.20" y="150.00" width="170.10" height="109.50" fill="none" stroke="#999999" stroke-width="0.9"/>
<g stroke="#222222" stroke-width="0.6"><line x1="18.80" x2="20.20" y1="254.30" y2="254.30"/><line x1="18.80" x2="20.20" y1="221.12" y2="221.12"/><line x1="18.80" x2="20.20" y1="187.94" y2="187.94"/><line x1="18.80" x2="20.20" y1="154.76" y2="154.76"/><line y1="259.50" y2="260.90" x1="27.93" x2="27.93"/><line y1="259.50" y2="260.90" x1="58.86" x2="58.86"/><line y1="259.50" y2="260.90" x1="89.79" x2="89.79"/><line y1="259.50" y2="260.90" x1="120.71" x2="120.71"/><line y1="259.50" y2="260.90" x1="151.64" x2="151.64"/><line y1="259.50" y2="260.90" x1="182.57" x2="182.57"/></g>
<g font-size="4.5" fill="#333333" stroke="#333333" stroke-width="0.12"><text x="17.70" y="256.30" text-anchor="end">0</text><text x="17.70" y="223.12" text-anchor="end">20</text><text x="17.70" y="189.94" text-anchor="end">40</text><text x="17.70" y="156.76" text-anchor="end">60</text><text x="27.93" y="265.80" text-anchor="middle">0</text><text x="58.86" y="265.80" text-anchor="middle">10</text><text x="89.79" y="265.80" text-anchor="middle">20</text><text x="120.71" y="265.80" text-anchor="middle">30</text><text x="151.64" y="265.80" text-anchor="middle">40</text><text x="182.57" y="265.80" text-anchor="middle">50</text></g>
<text x="105.25" y="271.70" text-anchor="middle" font-size="5.65" fill="#111111" stroke="#111111" stroke-width="0.15">SWI</text>
<text transform="translate(9.20,204.75) rotate(-90)" text-anchor="middle" font-size="5.65" fill="#111111" stroke="#111111" stroke-width="0.15">Graminoid Biomass (g m<tspan font-size="4.5" dy="-2.2">&#8722;2</tspan><tspan dy="2.2">)</tspan></text>
<text x="19.70" y="146.10" font-size="7" fill="#222" stroke="#222" stroke-width="0.2">d</text>
<text x="73.70" y="182.30" font-size="5.5" fill="#00008b" stroke="#00008b" stroke-width="0.13"><tspan>y&#160;=&#160;-0.09641&#160;x</tspan><tspan font-size="3.9" dy="-2.4">2</tspan><tspan dy="2.4">&#160;+&#160;4.41530x&#160;-&#160;10.74622</tspan></text>
<text x="109.70" y="187.50" font-size="5.5" fill="#00008b" stroke="#00008b" stroke-width="0.13"><tspan>R</tspan><tspan font-size="3.9" dy="-2.4">2</tspan><tspan dy="2.4">&#160;=&#160;0.65</tspan></text>
<text x="48.00" y="240.80" font-size="5.5" fill="#8b0000" stroke="#8b0000" stroke-width="0.08"><tspan>y&#160;=&#160;1.034274e</tspan><tspan font-size="3.9" dy="-2.4">(0.06163x)</tspan></text>
<text x="63.30" y="245.50" font-size="5.5" fill="#8b0000" stroke="#8b0000" stroke-width="0.08"><tspan>R</tspan><tspan font-size="3.9" dy="-2.4">2</tspan><tspan dy="2.4">&#160;=&#160;0.58</tspan></text>
<clipPath id="ce"><rect x="212.50" y="150.00" width="169.40" height="109.50"/></clipPath>
<g stroke="#e9e9e9"><line x1="212.50" x2="381.90" y1="246.80" y2="246.80" stroke-width="0.7"/><line x1="212.50" x2="381.90" y1="231.48" y2="231.48" stroke-width="0.55"/><line x1="212.50" x2="381.90" y1="216.16" y2="216.16" stroke-width="0.7"/><line x1="212.50" x2="381.90" y1="200.84" y2="200.84" stroke-width="0.55"/><line x1="212.50" x2="381.90" y1="185.52" y2="185.52" stroke-width="0.7"/><line x1="212.50" x2="381.90" y1="170.20" y2="170.20" stroke-width="0.55"/><line x1="212.50" x2="381.90" y1="154.88" y2="154.88" stroke-width="0.7"/><line y1="150.00" y2="259.50" x1="220.20" x2="220.20" stroke-width="0.7"/><line y1="150.00" y2="259.50" x1="235.60" x2="235.60" stroke-width="0.55"/><line y1="150.00" y2="259.50" x1="251.00" x2="251.00" stroke-width="0.7"/><line y1="150.00" y2="259.50" x1="266.40" x2="266.40" stroke-width="0.55"/><line y1="150.00" y2="259.50" x1="281.80" x2="281.80" stroke-width="0.7"/><line y1="150.00" y2="259.50" x1="297.20" x2="297.20" stroke-width="0.55"/><line y1="150.00" y2="259.50" x1="312.60" x2="312.60" stroke-width="0.7"/><line y1="150.00" y2="259.50" x1="328.00" x2="328.00" stroke-width="0.55"/><line y1="150.00" y2="259.50" x1="343.40" x2="343.40" stroke-width="0.7"/><line y1="150.00" y2="259.50" x1="358.80" x2="358.80" stroke-width="0.55"/><line y1="150.00" y2="259.50" x1="374.20" x2="374.20" stroke-width="0.7"/></g>
<path d="M220.20,238.26 L221.74,238.55 L223.28,238.84 L224.82,239.12 L226.36,239.40 L227.90,239.67 L229.44,239.93 L230.98,240.19 L232.52,240.45 L234.06,240.69 L235.60,240.93 L237.14,241.17 L238.68,241.40 L240.22,241.62 L241.76,241.84 L243.30,242.05 L244.84,242.25 L246.38,242.45 L247.92,242.65 L249.46,242.84 L251.00,243.02 L252.54,243.19 L254.08,243.36 L255.62,243.53 L257.16,243.69 L258.70,243.84 L260.24,243.99 L261.78,244.13 L263.32,244.26 L264.86,244.39 L266.40,244.51 L267.94,244.63 L269.48,244.74 L271.02,244.85 L272.56,244.95 L274.10,245.04 L275.64,245.13 L277.18,245.21 L278.72,245.29 L280.26,245.36 L281.80,245.42 L283.34,245.48 L284.88,245.53 L286.42,245.58 L287.96,245.62 L289.50,245.65 L291.04,245.68 L292.58,245.70 L294.12,245.72 L295.66,245.73 L297.20,245.74 L298.74,245.74 L300.28,245.73 L301.82,245.72 L303.36,245.70 L304.90,245.68 L306.44,245.65 L307.98,245.61 L309.52,245.57 L311.06,245.52 L312.60,245.47 L314.14,245.41 L315.68,245.34 L317.22,245.27 L318.76,245.19 L320.30,245.11 L321.84,245.02 L323.38,244.93 L324.92,244.83 L326.46,244.72 L328.00,244.61 L329.54,244.49 L331.08,244.37 L332.62,244.23 L334.16,244.10 L335.70,243.96 L337.24,243.81 L338.78,243.66 L340.32,243.50 L341.86,243.33 L343.40,243.16 L344.94,242.98 L346.48,242.80 L348.02,242.61 L349.56,242.41 L351.10,242.21 L352.64,242.01 L354.18,241.79 L355.72,241.58 L357.26,241.35 L358.80,241.12 L360.34,240.89 L361.88,240.64 L363.42,240.40 L364.96,240.14 L366.50,239.88 L368.04,239.62 L369.58,239.35 L371.12,239.07 L372.66,238.78 L374.20,238.50" fill="none" stroke="#3a3a92" stroke-width="1.15" stroke-linejoin="round" clip-path="url(#ce)"/>
<path d="M220.20,237.75 L221.74,238.29 L223.28,238.80 L224.82,239.31 L226.36,239.80 L227.90,240.27 L229.44,240.74 L230.98,241.19 L232.52,241.62 L234.06,242.04 L235.60,242.45 L237.14,242.84 L238.68,243.22 L240.22,243.59 L241.76,243.94 L243.30,244.28 L244.84,244.60 L246.38,244.91 L247.92,245.21 L249.46,245.49 L251.00,245.76 L252.54,246.02 L254.08,246.26 L255.62,246.49 L257.16,246.70 L258.70,246.90 L260.24,247.09 L261.78,247.26 L263.32,247.42 L264.86,247.57 L266.40,247.70 L267.94,247.81 L269.48,247.92 L271.02,248.01 L272.56,248.08 L274.10,248.15 L275.64,248.20 L277.18,248.23 L278.72,248.25 L280.26,248.26 L281.80,248.25 L283.34,248.23 L284.88,248.20 L286.42,248.15 L287.96,248.09 L289.50,248.01 L291.04,247.92 L292.58,247.82 L294.12,247.70 L295.66,247.57 L297.20,247.43 L298.74,247.27 L300.28,247.09 L301.82,246.91 L303.36,246.71 L304.90,246.49 L306.44,246.27 L307.98,246.03 L309.52,245.77 L311.06,245.50 L312.60,245.22 L314.14,244.92 L315.68,244.61 L317.22,244.29 L318.76,243.95 L320.30,243.60 L321.84,243.23 L323.38,242.85 L324.92,242.46 L326.46,242.05 L328.00,241.63 L329.54,241.20 L331.08,240.75 L332.62,240.29 L334.16,239.81 L335.70,239.32 L337.24,238.82 L338.78,238.30 L340.32,237.77 L341.86,237.22 L343.40,236.67 L344.94,236.09 L346.48,235.51 L348.02,234.91 L349.56,234.29 L351.10,233.66 L352.64,233.02 L354.18,232.37 L355.72,231.70 L357.26,231.02 L358.80,230.32 L360.34,229.61 L361.88,228.88 L363.42,228.15 L364.96,227.39 L366.50,226.63 L368.04,225.85 L369.58,225.05 L371.12,224.25 L372.66,223.43 L374.20,222.59" fill="none" stroke="#a04444" stroke-width="1.15" stroke-linejoin="round" clip-path="url(#ce)"/>
<circle cx="226.05" cy="238.07" r="1.25" fill="#000070"/>
<circle cx="255.31" cy="245.27" r="1.25" fill="#000070"/>
<circle cx="277.49" cy="245.27" r="1.25" fill="#000070"/>
<circle cx="312.29" cy="243.58" r="1.25" fill="#000070"/>
<circle cx="332.62" cy="241.28" r="1.25" fill="#000070"/>
<circle cx="347.10" cy="244.96" r="1.25" fill="#000070"/>
<circle cx="226.05" cy="240.67" r="1.25" fill="#700000"/>
<circle cx="255.31" cy="246.65" r="1.25" fill="#700000"/>
<circle cx="278.72" cy="245.57" r="1.25" fill="#700000"/>
<circle cx="311.37" cy="246.34" r="1.25" fill="#700000"/>
<circle cx="332.62" cy="246.65" r="1.25" fill="#700000"/>
<circle cx="346.17" cy="229.95" r="1.25" fill="#700000"/>
<rect x="212.50" y="150.00" width="169.40" height="109.50" fill="none" stroke="#999999" stroke-width="0.9"/>
<g stroke="#222222" stroke-width="0.6"><line x1="211.10" x2="212.50" y1="246.80" y2="246.80"/><line x1="211.10" x2="212.50" y1="216.16" y2="216.16"/><line x1="211.10" x2="212.50" y1="185.52" y2="185.52"/><line x1="211.10" x2="212.50" y1="154.88" y2="154.88"/><line y1="259.50" y2="260.90" x1="220.20" x2="220.20"/><line y1="259.50" y2="260.90" x1="251.00" x2="251.00"/><line y1="259.50" y2="260.90" x1="281.80" x2="281.80"/><line y1="259.50" y2="260.90" x1="312.60" x2="312.60"/><line y1="259.50" y2="260.90" x1="343.40" x2="343.40"/><line y1="259.50" y2="260.90" x1="374.20" x2="374.20"/></g>
<g font-size="4.5" fill="#333333" stroke="#333333" stroke-width="0.12"><text x="210.00" y="248.80" text-anchor="end">0</text><text x="210.00" y="218.16" text-anchor="end">20</text><text x="210.00" y="187.52" text-anchor="end">40</text><text x="210.00" y="156.88" text-anchor="end">60</text><text x="220.20" y="265.80" text-anchor="middle">0</text><text x="251.00" y="265.80" text-anchor="middle">10</text><text x="281.80" y="265.80" text-anchor="middle">20</text><text x="312.60" y="265.80" text-anchor="middle">30</text><text x="343.40" y="265.80" text-anchor="middle">40</text><text x="374.20" y="265.80" text-anchor="middle">50</text></g>
<text x="297.20" y="271.70" text-anchor="middle" font-size="5.65" fill="#111111" stroke="#111111" stroke-width="0.15">SWI</text>
<text transform="translate(200.87,204.75) rotate(-90)" text-anchor="middle" font-size="5.65" fill="#111111" stroke="#111111" stroke-width="0.15">Forb Biomass (g m<tspan font-size="4.5" dy="-2.2">&#8722;2</tspan><tspan dy="2.2">)</tspan></text>
<text x="212.00" y="146.10" font-size="7" fill="#222" stroke="#222" stroke-width="0.2">e</text>
<text x="217.10" y="231.30" font-size="5.5" fill="#00008b" stroke="#00008b" stroke-width="0.13"><tspan>y&#160;=&#160;0.007687&#160;x</tspan><tspan font-size="3.9" dy="-2.4">2</tspan><tspan dy="2.4">&#160;-&#160;0.387435x&#160;+&#160;5.574723</tspan></text>
<text x="239.40" y="237.30" font-size="5.5" fill="#00008b" stroke="#00008b" stroke-width="0.13"><tspan>R</tspan><tspan font-size="3.9" dy="-2.4">2</tspan><tspan dy="2.4">&#160;=&#160;0.46</tspan></text>
<text x="277.40" y="218.70" font-size="5.5" fill="#8b0000" stroke="#8b0000" stroke-width="0.08"><tspan>y&#160;=&#160;0.0180181&#160;x</tspan><tspan font-size="3.9" dy="-2.4">2</tspan><tspan dy="2.4">&#160;-&#160;0.702964x&#160;+&#160;5.904612</tspan></text>
<text x="331.90" y="224.60" font-size="5.5" fill="#8b0000" stroke="#8b0000" stroke-width="0.08"><tspan>R</tspan><tspan font-size="3.9" dy="-2.4">2</tspan><tspan dy="2.4">&#160;=&#160;0.58</tspan></text>
<clipPath id="cf"><rect x="404.60" y="150.00" width="169.20" height="109.50"/></clipPath>
<g stroke="#e9e9e9"><line x1="404.60" x2="573.80" y1="254.50" y2="254.50" stroke-width="0.7"/><line x1="404.60" x2="573.80" y1="237.91" y2="237.91" stroke-width="0.55"/><line x1="404.60" x2="573.80" y1="221.32" y2="221.32" stroke-width="0.7"/><line x1="404.60" x2="573.80" y1="204.73" y2="204.73" stroke-width="0.55"/><line x1="404.60" x2="573.80" y1="188.14" y2="188.14" stroke-width="0.7"/><line x1="404.60" x2="573.80" y1="171.55" y2="171.55" stroke-width="0.55"/><line x1="404.60" x2="573.80" y1="154.96" y2="154.96" stroke-width="0.7"/><line y1="150.00" y2="259.50" x1="412.29" x2="412.29" stroke-width="0.7"/><line y1="150.00" y2="259.50" x1="427.67" x2="427.67" stroke-width="0.55"/><line y1="150.00" y2="259.50" x1="443.05" x2="443.05" stroke-width="0.7"/><line y1="150.00" y2="259.50" x1="458.44" x2="458.44" stroke-width="0.55"/><line y1="150.00" y2="259.50" x1="473.82" x2="473.82" stroke-width="0.7"/><line y1="150.00" y2="259.50" x1="489.20" x2="489.20" stroke-width="0.55"/><line y1="150.00" y2="259.50" x1="504.58" x2="504.58" stroke-width="0.7"/><line y1="150.00" y2="259.50" x1="519.96" x2="519.96" stroke-width="0.55"/><line y1="150.00" y2="259.50" x1="535.35" x2="535.35" stroke-width="0.7"/><line y1="150.00" y2="259.50" x1="550.73" x2="550.73" stroke-width="0.55"/><line y1="150.00" y2="259.50" x1="566.11" x2="566.11" stroke-width="0.7"/></g>
<path d="M416.91,252.43 L418.44,249.39 L419.98,246.43 L421.52,243.54 L423.06,240.73 L424.60,237.99 L426.13,235.32 L427.67,232.73 L429.21,230.21 L430.75,227.77 L432.29,225.40 L433.83,223.11 L435.36,220.89 L436.90,218.74 L438.44,216.67 L439.98,214.67 L441.52,212.75 L443.05,210.90 L444.59,209.13 L446.13,207.43 L447.67,205.80 L449.21,204.25 L450.75,202.77 L452.28,201.37 L453.82,200.04 L455.36,198.79 L456.90,197.61 L458.44,196.50 L459.97,195.47 L461.51,194.51 L463.05,193.63 L464.59,192.82 L466.13,192.08 L467.67,191.42 L469.20,190.84 L470.74,190.32 L472.28,189.89 L473.82,189.52 L475.36,189.23 L476.89,189.02 L478.43,188.88 L479.97,188.81 L481.51,188.82 L483.05,188.90 L484.59,189.05 L486.12,189.28 L487.66,189.59 L489.20,189.97 L490.74,190.42 L492.28,190.95 L493.81,191.55 L495.35,192.22 L496.89,192.97 L498.43,193.80 L499.97,194.70 L501.51,195.67 L503.04,196.72 L504.58,197.84 L506.12,199.03 L507.66,200.30 L509.20,201.65 L510.73,203.06 L512.27,204.56 L513.81,206.12 L515.35,207.76 L516.89,209.48 L518.43,211.27 L519.96,213.13 L521.50,215.07 L523.04,217.08 L524.58,219.17 L526.12,221.33 L527.65,223.56 L529.19,225.87 L530.73,228.25 L532.27,230.71 L533.81,233.24 L535.35,235.85 L536.88,238.53 L538.42,241.28 L539.96,244.11 L541.50,247.01 L543.04,249.99 L544.57,253.04" fill="none" stroke="#3a3a92" stroke-width="1.15" stroke-linejoin="round" clip-path="url(#cf)"/>
<path d="M412.29,246.31 L413.83,246.36 L415.37,246.40 L416.91,246.44 L418.44,246.47 L419.98,246.49 L421.52,246.50 L423.06,246.51 L424.60,246.50 L426.13,246.50 L427.67,246.48 L429.21,246.46 L430.75,246.43 L432.29,246.39 L433.83,246.35 L435.36,246.29 L436.90,246.23 L438.44,246.17 L439.98,246.09 L441.52,246.01 L443.05,245.93 L444.59,245.83 L446.13,245.73 L447.67,245.62 L449.21,245.50 L450.75,245.38 L452.28,245.24 L453.82,245.11 L455.36,244.96 L456.90,244.81 L458.44,244.65 L459.97,244.48 L461.51,244.30 L463.05,244.12 L464.59,243.93 L466.13,243.73 L467.67,243.53 L469.20,243.32 L470.74,243.10 L472.28,242.87 L473.82,242.64 L475.36,242.40 L476.89,242.15 L478.43,241.90 L479.97,241.64 L481.51,241.37 L483.05,241.09 L484.59,240.81 L486.12,240.52 L487.66,240.22 L489.20,239.91 L490.74,239.60 L492.28,239.28 L493.81,238.95 L495.35,238.62 L496.89,238.27 L498.43,237.93 L499.97,237.57 L501.51,237.21 L503.04,236.84 L504.58,236.46 L506.12,236.07 L507.66,235.68 L509.20,235.28 L510.73,234.87 L512.27,234.46 L513.81,234.04 L515.35,233.61 L516.89,233.17 L518.43,232.73 L519.96,232.28 L521.50,231.82 L523.04,231.36 L524.58,230.88 L526.12,230.40 L527.65,229.92 L529.19,229.42 L530.73,228.92 L532.27,228.41 L533.81,227.90 L535.35,227.37 L536.88,226.84 L538.42,226.31 L539.96,225.76 L541.50,225.21 L543.04,224.65 L544.57,224.08 L546.11,223.51 L547.65,222.93 L549.19,222.34 L550.73,221.75 L552.27,221.14 L553.80,220.53 L555.34,219.92 L556.88,219.29 L558.42,218.66 L559.96,218.02 L561.49,217.38 L563.03,216.72 L564.57,216.06 L566.11,215.39" fill="none" stroke="#a04444" stroke-width="1.15" stroke-linejoin="round" clip-path="url(#cf)"/>
<circle cx="418.14" cy="242.72" r="1.25" fill="#000070"/>
<circle cx="447.05" cy="232.93" r="1.25" fill="#000070"/>
<circle cx="468.59" cy="163.25" r="1.25" fill="#000070"/>
<circle cx="504.58" cy="214.68" r="1.25" fill="#000070"/>
<circle cx="524.58" cy="203.40" r="1.25" fill="#000070"/>
<circle cx="539.34" cy="250.85" r="1.25" fill="#000070"/>
<circle cx="418.14" cy="246.54" r="1.25" fill="#700000"/>
<circle cx="447.05" cy="251.35" r="1.25" fill="#700000"/>
<circle cx="470.43" cy="228.95" r="1.25" fill="#700000"/>
<circle cx="524.58" cy="232.10" r="1.25" fill="#700000"/>
<circle cx="538.42" cy="221.65" r="1.25" fill="#700000"/>
<rect x="404.60" y="150.00" width="169.20" height="109.50" fill="none" stroke="#999999" stroke-width="0.9"/>
<g stroke="#222222" stroke-width="0.6"><line x1="403.20" x2="404.60" y1="254.50" y2="254.50"/><line x1="403.20" x2="404.60" y1="221.32" y2="221.32"/><line x1="403.20" x2="404.60" y1="188.14" y2="188.14"/><line x1="403.20" x2="404.60" y1="154.96" y2="154.96"/><line y1="259.50" y2="260.90" x1="412.29" x2="412.29"/><line y1="259.50" y2="260.90" x1="443.05" x2="443.05"/><line y1="259.50" y2="260.90" x1="473.82" x2="473.82"/><line y1="259.50" y2="260.90" x1="504.58" x2="504.58"/><line y1="259.50" y2="260.90" x1="535.35" x2="535.35"/><line y1="259.50" y2="260.90" x1="566.11" x2="566.11"/></g>
<g font-size="4.5" fill="#333333" stroke="#333333" stroke-width="0.12"><text x="402.10" y="256.50" text-anchor="end">0</text><text x="402.10" y="223.32" text-anchor="end">20</text><text x="402.10" y="190.14" text-anchor="end">40</text><text x="402.10" y="156.96" text-anchor="end">60</text><text x="412.29" y="265.80" text-anchor="middle">0</text><text x="443.05" y="265.80" text-anchor="middle">10</text><text x="473.82" y="265.80" text-anchor="middle">20</text><text x="504.58" y="265.80" text-anchor="middle">30</text><text x="535.35" y="265.80" text-anchor="middle">40</text><text x="566.11" y="265.80" text-anchor="middle">50</text></g>
<text x="489.20" y="271.70" text-anchor="middle" font-size="5.65" fill="#111111" stroke="#111111" stroke-width="0.15">SWI</text>
<text transform="translate(392.53,204.75) rotate(-90)" text-anchor="middle" font-size="5.65" fill="#111111" stroke="#111111" stroke-width="0.15">Herbaceous Biomass (g m<tspan font-size="4.5" dy="-2.2">&#8722;2</tspan><tspan dy="2.2">)</tspan></text>
<text x="404.10" y="146.10" font-size="7" fill="#222" stroke="#222" stroke-width="0.2">f</text>
<text x="443.70" y="175.50" font-size="5.5" fill="#00008b" stroke="#00008b" stroke-width="0.13"><tspan>y&#160;=&#160;-0.09071&#160;x</tspan><tspan font-size="3.9" dy="-2.4">2</tspan><tspan dy="2.4">&#160;+&#160;4.62768x&#160;-&#160;5.17368</tspan></text>
<text x="477.80" y="182.10" font-size="5.5" fill="#00008b" stroke="#00008b" stroke-width="0.13"><tspan>R</tspan><tspan font-size="3.9" dy="-2.4">2</tspan><tspan dy="2.4">&#160;=&#160;0.58</tspan></text>
<text x="439.10" y="250.90" font-size="5.5" fill="#8b0000" stroke="#8b0000" stroke-width="0.08"><tspan>y&#160;=&#160;0.008737&#160;x</tspan><tspan font-size="3.9" dy="-2.4">2</tspan><tspan dy="2.4">&#160;-&#160;0.064120x&#160;+&#160;4.935978</tspan></text>
<text x="478.30" y="256.60" font-size="5.5" fill="#8b0000" stroke="#8b0000" stroke-width="0.08"><tspan>R</tspan><tspan font-size="3.9" dy="-2.4">2</tspan><tspan dy="2.4">&#160;=&#160;0.48</tspan></text>
<clipPath id="cg"><rect x="23.00" y="287.20" width="167.30" height="109.50"/></clipPath>
<g stroke="#e9e9e9"><line x1="23.00" x2="190.30" y1="391.70" y2="391.70" stroke-width="0.7"/><line x1="23.00" x2="190.30" y1="375.11" y2="375.11" stroke-width="0.55"/><line x1="23.00" x2="190.30" y1="358.52" y2="358.52" stroke-width="0.7"/><line x1="23.00" x2="190.30" y1="341.93" y2="341.93" stroke-width="0.55"/><line x1="23.00" x2="190.30" y1="325.34" y2="325.34" stroke-width="0.7"/><line x1="23.00" x2="190.30" y1="308.75" y2="308.75" stroke-width="0.55"/><line x1="23.00" x2="190.30" y1="292.16" y2="292.16" stroke-width="0.7"/><line y1="287.20" y2="396.70" x1="30.60" x2="30.60" stroke-width="0.7"/><line y1="287.20" y2="396.70" x1="45.81" x2="45.81" stroke-width="0.55"/><line y1="287.20" y2="396.70" x1="61.02" x2="61.02" stroke-width="0.7"/><line y1="287.20" y2="396.70" x1="76.23" x2="76.23" stroke-width="0.55"/><line y1="287.20" y2="396.70" x1="91.44" x2="91.44" stroke-width="0.7"/><line y1="287.20" y2="396.70" x1="106.65" x2="106.65" stroke-width="0.55"/><line y1="287.20" y2="396.70" x1="121.86" x2="121.86" stroke-width="0.7"/><line y1="287.20" y2="396.70" x1="137.07" x2="137.07" stroke-width="0.55"/><line y1="287.20" y2="396.70" x1="152.28" x2="152.28" stroke-width="0.7"/><line y1="287.20" y2="396.70" x1="167.49" x2="167.49" stroke-width="0.55"/><line y1="287.20" y2="396.70" x1="182.70" x2="182.70" stroke-width="0.7"/></g>
<path d="M33.65,390.72 L35.17,388.39 L36.69,386.11 L38.21,383.88 L39.73,381.71 L41.25,379.58 L42.77,377.51 L44.29,375.49 L45.81,373.53 L47.33,371.61 L48.86,369.75 L50.38,367.94 L51.90,366.18 L53.42,364.48 L54.94,362.82 L56.46,361.22 L57.98,359.68 L59.50,358.18 L61.02,356.74 L62.54,355.35 L64.06,354.01 L65.59,352.72 L67.11,351.49 L68.63,350.30 L70.15,349.17 L71.67,348.10 L73.19,347.07 L74.71,346.10 L76.23,345.18 L77.75,344.31 L79.27,343.50 L80.79,342.73 L82.32,342.02 L83.84,341.36 L85.36,340.76 L86.88,340.20 L88.40,339.70 L89.92,339.25 L91.44,338.85 L92.96,338.51 L94.48,338.22 L96.00,337.98 L97.52,337.79 L99.05,337.65 L100.57,337.57 L102.09,337.54 L103.61,337.56 L105.13,337.63 L106.65,337.76 L108.17,337.94 L109.69,338.17 L111.21,338.45 L112.73,338.79 L114.25,339.17 L115.78,339.61 L117.30,340.11 L118.82,340.65 L120.34,341.25 L121.86,341.90 L123.38,342.60 L124.90,343.35 L126.42,344.16 L127.94,345.02 L129.46,345.93 L130.98,346.89 L132.51,347.91 L134.03,348.97 L135.55,350.09 L137.07,351.27 L138.59,352.49 L140.11,353.77 L141.63,355.10 L143.15,356.48 L144.67,357.91 L146.19,359.40 L147.71,360.94 L149.24,362.53 L150.76,364.17 L152.28,365.87 L153.80,367.61 L155.32,369.41 L156.84,371.27 L158.36,373.17 L159.88,375.13 L161.40,377.14 L162.92,379.20 L164.44,381.31 L165.97,383.48 L167.49,385.70 L169.01,387.97 L170.53,390.29" fill="none" stroke="#3a3a92" stroke-width="1.15" stroke-linejoin="round" clip-path="url(#cg)"/>
<path d="M33.65,390.75 L35.17,388.27 L36.69,385.85 L38.21,383.48 L39.73,381.18 L41.25,378.94 L42.77,376.75 L44.29,374.62 L45.81,372.56 L47.33,370.55 L48.86,368.60 L50.38,366.70 L51.90,364.87 L53.42,363.10 L54.94,361.38 L56.46,359.72 L57.98,358.13 L59.50,356.59 L61.02,355.11 L62.54,353.68 L64.06,352.32 L65.59,351.02 L67.11,349.77 L68.63,348.58 L70.15,347.46 L71.67,346.39 L73.19,345.38 L74.71,344.43 L76.23,343.53 L77.75,342.70 L79.27,341.92 L80.79,341.21 L82.32,340.55 L83.84,339.95 L85.36,339.41 L86.88,338.93 L88.40,338.51 L89.92,338.14 L91.44,337.84 L92.96,337.59 L94.48,337.41 L96.00,337.28 L97.52,337.21 L99.05,337.20 L100.57,337.24 L102.09,337.35 L103.61,337.52 L105.13,337.74 L106.65,338.02 L108.17,338.37 L109.69,338.77 L111.21,339.22 L112.73,339.74 L114.25,340.32 L115.78,340.96 L117.30,341.65 L118.82,342.40 L120.34,343.21 L121.86,344.09 L123.38,345.01 L124.90,346.00 L126.42,347.05 L127.94,348.16 L129.46,349.32 L130.98,350.54 L132.51,351.83 L134.03,353.17 L135.55,354.57 L137.07,356.02 L138.59,357.54 L140.11,359.12 L141.63,360.75 L143.15,362.45 L144.67,364.20 L146.19,366.01 L147.71,367.88 L149.24,369.81 L150.76,371.80 L152.28,373.84 L153.80,375.95 L155.32,378.11 L156.84,380.33 L158.36,382.61 L159.88,384.95 L161.40,387.35 L162.92,389.81" fill="none" stroke="#a04444" stroke-width="1.15" stroke-linejoin="round" clip-path="url(#cg)"/>
<circle cx="36.69" cy="387.22" r="1.25" fill="#000070"/>
<circle cx="65.28" cy="348.07" r="1.25" fill="#000070"/>
<circle cx="86.88" cy="342.59" r="1.25" fill="#000070"/>
<circle cx="121.55" cy="349.73" r="1.25" fill="#000070"/>
<circle cx="141.63" cy="341.43" r="1.25" fill="#000070"/>
<circle cx="155.93" cy="376.44" r="1.25" fill="#000070"/>
<circle cx="36.69" cy="391.70" r="1.25" fill="#700000"/>
<circle cx="65.28" cy="349.89" r="1.25" fill="#700000"/>
<circle cx="88.09" cy="316.22" r="1.25" fill="#700000"/>
<circle cx="120.64" cy="361.01" r="1.25" fill="#700000"/>
<circle cx="141.63" cy="377.93" r="1.25" fill="#700000"/>
<circle cx="155.32" cy="359.85" r="1.25" fill="#700000"/>
<rect x="23.00" y="287.20" width="167.30" height="109.50" fill="none" stroke="#999999" stroke-width="0.9"/>
<g stroke="#222222" stroke-width="0.6"><line x1="21.60" x2="23.00" y1="391.70" y2="391.70"/><line x1="21.60" x2="23.00" y1="358.52" y2="358.52"/><line x1="21.60" x2="23.00" y1="325.34" y2="325.34"/><line x1="21.60" x2="23.00" y1="292.16" y2="292.16"/><line y1="396.70" y2="398.10" x1="30.60" x2="30.60"/><line y1="396.70" y2="398.10" x1="61.02" x2="61.02"/><line y1="396.70" y2="398.10" x1="91.44" x2="91.44"/><line y1="396.70" y2="398.10" x1="121.86" x2="121.86"/><line y1="396.70" y2="398.10" x1="152.28" x2="152.28"/><line y1="396.70" y2="398.10" x1="182.70" x2="182.70"/></g>
<g font-size="4.5" fill="#333333" stroke="#333333" stroke-width="0.12"><text x="20.50" y="393.70" text-anchor="end">0</text><text x="20.50" y="360.52" text-anchor="end">200</text><text x="20.50" y="327.34" text-anchor="end">400</text><text x="20.50" y="294.16" text-anchor="end">600</text><text x="30.60" y="403.00" text-anchor="middle">0</text><text x="61.02" y="403.00" text-anchor="middle">10</text><text x="91.44" y="403.00" text-anchor="middle">20</text><text x="121.86" y="403.00" text-anchor="middle">30</text><text x="152.28" y="403.00" text-anchor="middle">40</text><text x="182.70" y="403.00" text-anchor="middle">50</text></g>
<text x="106.65" y="408.90" text-anchor="middle" font-size="5.65" fill="#111111" stroke="#111111" stroke-width="0.15">SWI</text>
<text transform="translate(9.20,341.95) rotate(-90)" text-anchor="middle" font-size="5.65" fill="#111111" stroke="#111111" stroke-width="0.15">Moss Biomass (g m<tspan font-size="4.5" dy="-2.2">&#8722;2</tspan><tspan dy="2.2">)</tspan></text>
<text x="22.50" y="283.30" font-size="7" fill="#222" stroke="#222" stroke-width="0.2">g</text>
<text x="63.30" y="327.50" font-size="5.5" fill="#00008b" stroke="#00008b" stroke-width="0.13"><tspan>y&#160;=&#160;-0.6307&#160;x</tspan><tspan font-size="3.9" dy="-2.4">2</tspan><tspan dy="2.4">&#160;+&#160;29.7006x&#160;-23.1859</tspan></text>
<text x="95.00" y="333.60" font-size="5.5" fill="#00008b" stroke="#00008b" stroke-width="0.13"><tspan>R</tspan><tspan font-size="3.9" dy="-2.4">2</tspan><tspan dy="2.4">&#160;=&#160;0.83</tspan></text>
<text x="63.30" y="385.50" font-size="5.5" fill="#8b0000" stroke="#8b0000" stroke-width="0.08"><tspan>y&#160;=&#160;&#160;-0.7086&#160;x</tspan><tspan font-size="3.9" dy="-2.4">2</tspan><tspan dy="2.4">&#160;+31.6654x&#160;-25.2127</tspan></text>
<text x="95.00" y="391.90" font-size="5.5" fill="#8b0000" stroke="#8b0000" stroke-width="0.08"><tspan>R</tspan><tspan font-size="3.9" dy="-2.4">2</tspan><tspan dy="2.4">&#160;=&#160;0.55</tspan></text>
<clipPath id="ch"><rect x="214.90" y="287.20" width="167.00" height="109.50"/></clipPath>
<g stroke="#e9e9e9"><line x1="214.90" x2="381.90" y1="391.70" y2="391.70" stroke-width="0.7"/><line x1="214.90" x2="381.90" y1="375.11" y2="375.11" stroke-width="0.55"/><line x1="214.90" x2="381.90" y1="358.52" y2="358.52" stroke-width="0.7"/><line x1="214.90" x2="381.90" y1="341.93" y2="341.93" stroke-width="0.55"/><line x1="214.90" x2="381.90" y1="325.34" y2="325.34" stroke-width="0.7"/><line x1="214.90" x2="381.90" y1="308.75" y2="308.75" stroke-width="0.55"/><line x1="214.90" x2="381.90" y1="292.16" y2="292.16" stroke-width="0.7"/><line y1="287.20" y2="396.70" x1="222.49" x2="222.49" stroke-width="0.7"/><line y1="287.20" y2="396.70" x1="237.67" x2="237.67" stroke-width="0.55"/><line y1="287.20" y2="396.70" x1="252.85" x2="252.85" stroke-width="0.7"/><line y1="287.20" y2="396.70" x1="268.04" x2="268.04" stroke-width="0.55"/><line y1="287.20" y2="396.70" x1="283.22" x2="283.22" stroke-width="0.7"/><line y1="287.20" y2="396.70" x1="298.40" x2="298.40" stroke-width="0.55"/><line y1="287.20" y2="396.70" x1="313.58" x2="313.58" stroke-width="0.7"/><line y1="287.20" y2="396.70" x1="328.76" x2="328.76" stroke-width="0.55"/><line y1="287.20" y2="396.70" x1="343.95" x2="343.95" stroke-width="0.7"/><line y1="287.20" y2="396.70" x1="359.13" x2="359.13" stroke-width="0.55"/><line y1="287.20" y2="396.70" x1="374.31" x2="374.31" stroke-width="0.7"/></g>
<path d="M222.49,363.18 L224.01,365.30 L225.53,367.35 L227.05,369.33 L228.56,371.24 L230.08,373.07 L231.60,374.84 L233.12,376.54 L234.64,378.16 L236.15,379.71 L237.67,381.20 L239.19,382.61 L240.71,383.95 L242.23,385.22 L243.75,386.43 L245.26,387.56 L246.78,388.61 L248.30,389.60 L249.82,390.52 L251.34,391.37M286.25,391.36 L287.77,390.51 L289.29,389.59 L290.81,388.60 L292.33,387.54 L293.85,386.41 L295.36,385.21 L296.88,383.93 L298.40,382.59 L299.92,381.18 L301.44,379.69 L302.95,378.14 L304.47,376.51 L305.99,374.81 L307.51,373.05 L309.03,371.21 L310.55,369.30 L312.06,367.32 L313.58,365.27 L315.10,363.15 L316.62,360.96 L318.14,358.70 L319.65,356.37 L321.17,353.96 L322.69,351.49 L324.21,348.95 L325.73,346.33 L327.25,343.64 L328.76,340.89 L330.28,338.06 L331.80,335.16 L333.32,332.19 L334.84,329.16 L336.35,326.05 L337.87,322.87 L339.39,319.61 L340.91,316.29 L342.43,312.90 L343.95,309.44 L345.46,305.90 L346.98,302.30 L348.50,298.62 L350.02,294.88" fill="none" stroke="#3a3a92" stroke-width="1.15" stroke-linejoin="round" clip-path="url(#ch)"/>
<path d="M222.49,388.50 L224.01,388.37 L225.53,388.22 L227.05,388.07 L228.56,387.91 L230.08,387.74 L231.60,387.57 L233.12,387.39 L234.64,387.20 L236.15,387.01 L237.67,386.80 L239.19,386.59 L240.71,386.37 L242.23,386.14 L243.75,385.89 L245.26,385.64 L246.78,385.38 L248.30,385.10 L249.82,384.81 L251.34,384.51 L252.85,384.20 L254.37,383.87 L255.89,383.53 L257.41,383.18 L258.93,382.81 L260.45,382.42 L261.96,382.01 L263.48,381.59 L265.00,381.15 L266.52,380.69 L268.04,380.21 L269.55,379.71 L271.07,379.19 L272.59,378.64 L274.11,378.08 L275.63,377.48 L277.15,376.86 L278.66,376.22 L280.18,375.54 L281.70,374.84 L283.22,374.10 L284.74,373.34 L286.25,372.53 L287.77,371.70 L289.29,370.83 L290.81,369.92 L292.33,368.97 L293.85,367.98 L295.36,366.95 L296.88,365.87 L298.40,364.74 L299.92,363.57 L301.44,362.34 L302.95,361.06 L304.47,359.73 L305.99,358.33 L307.51,356.88 L309.03,355.36 L310.55,353.78 L312.06,352.13 L313.58,350.40 L315.10,348.60 L316.62,346.73 L318.14,344.77 L319.65,342.72 L321.17,340.59 L322.69,338.36 L324.21,336.04 L325.73,333.61 L327.25,331.08 L328.76,328.44 L330.28,325.68 L331.80,322.80 L333.32,319.80 L334.84,316.67 L336.35,313.40 L337.87,309.99 L339.39,306.43 L340.91,302.71 L342.43,298.84 L343.95,294.79" fill="none" stroke="#a04444" stroke-width="1.15" stroke-linejoin="round" clip-path="url(#ch)"/>
<circle cx="228.26" cy="385.89" r="1.25" fill="#000070"/>
<circle cx="257.11" cy="379.09" r="1.25" fill="#000070"/>
<circle cx="278.36" cy="368.81" r="1.25" fill="#000070"/>
<circle cx="313.58" cy="383.24" r="1.25" fill="#000070"/>
<circle cx="333.62" cy="380.58" r="1.25" fill="#000070"/>
<circle cx="228.26" cy="390.04" r="1.25" fill="#700000"/>
<circle cx="257.11" cy="374.28" r="1.25" fill="#700000"/>
<circle cx="279.88" cy="349.56" r="1.25" fill="#700000"/>
<circle cx="312.37" cy="356.36" r="1.25" fill="#700000"/>
<circle cx="333.62" cy="348.07" r="1.25" fill="#700000"/>
<circle cx="346.68" cy="294.98" r="1.25" fill="#700000"/>
<rect x="214.90" y="287.20" width="167.00" height="109.50" fill="none" stroke="#999999" stroke-width="0.9"/>
<g stroke="#222222" stroke-width="0.6"><line x1="213.50" x2="214.90" y1="391.70" y2="391.70"/><line x1="213.50" x2="214.90" y1="358.52" y2="358.52"/><line x1="213.50" x2="214.90" y1="325.34" y2="325.34"/><line x1="213.50" x2="214.90" y1="292.16" y2="292.16"/><line y1="396.70" y2="398.10" x1="222.49" x2="222.49"/><line y1="396.70" y2="398.10" x1="252.85" x2="252.85"/><line y1="396.70" y2="398.10" x1="283.22" x2="283.22"/><line y1="396.70" y2="398.10" x1="313.58" x2="313.58"/><line y1="396.70" y2="398.10" x1="343.95" x2="343.95"/><line y1="396.70" y2="398.10" x1="374.31" x2="374.31"/></g>
<g font-size="4.5" fill="#333333" stroke="#333333" stroke-width="0.12"><text x="212.40" y="393.70" text-anchor="end">0</text><text x="212.40" y="360.52" text-anchor="end">200</text><text x="212.40" y="327.34" text-anchor="end">400</text><text x="212.40" y="294.16" text-anchor="end">600</text><text x="222.49" y="403.00" text-anchor="middle">0</text><text x="252.85" y="403.00" text-anchor="middle">10</text><text x="283.22" y="403.00" text-anchor="middle">20</text><text x="313.58" y="403.00" text-anchor="middle">30</text><text x="343.95" y="403.00" text-anchor="middle">40</text><text x="374.31" y="403.00" text-anchor="middle">50</text></g>
<text x="298.40" y="408.90" text-anchor="middle" font-size="5.65" fill="#111111" stroke="#111111" stroke-width="0.15">SWI</text>
<text transform="translate(200.87,341.95) rotate(-90)" text-anchor="middle" font-size="5.65" fill="#111111" stroke="#111111" stroke-width="0.15">Lichen Biomass (g m<tspan font-size="4.5" dy="-2.2">&#8722;2</tspan><tspan dy="2.2">)</tspan></text>
<text x="214.40" y="283.30" font-size="7" fill="#222" stroke="#222" stroke-width="0.2">h</text>
<text x="273.00" y="327.90" font-size="5.5" fill="#8b0000" stroke="#8b0000" stroke-width="0.08"><tspan>y&#160;=&#160;19.2625e</tspan><tspan font-size="3.9" dy="-2.4">(0.08461x)</tspan></text>
<text x="287.00" y="332.70" font-size="5.5" fill="#8b0000" stroke="#8b0000" stroke-width="0.08"><tspan>R</tspan><tspan font-size="3.9" dy="-2.4">2</tspan><tspan dy="2.4">&#160;=&#160;0.75</tspan></text>
<text x="285.70" y="377.50" font-size="5.5" fill="#00008b" stroke="#00008b" stroke-width="0.13"><tspan>y&#160;=&#160;0.8519&#160;x</tspan><tspan font-size="3.9" dy="-2.4">2</tspan><tspan dy="2.4">&#160;-25.9767x&#160;+&#160;171.8889</tspan></text>
<text x="348.30" y="382.20" font-size="5.5" fill="#00008b" stroke="#00008b" stroke-width="0.13"><tspan>R</tspan><tspan font-size="3.9" dy="-2.4">2</tspan><tspan dy="2.4">&#160;=&#160;0.55</tspan></text>
<clipPath id="ci"><rect x="22.80" y="424.20" width="167.50" height="109.50"/></clipPath>
<g stroke="#e9e9e9"><line x1="22.80" x2="190.30" y1="528.60" y2="528.60" stroke-width="0.7"/><line x1="22.80" x2="190.30" y1="514.80" y2="514.80" stroke-width="0.55"/><line x1="22.80" x2="190.30" y1="501.00" y2="501.00" stroke-width="0.7"/><line x1="22.80" x2="190.30" y1="487.20" y2="487.20" stroke-width="0.55"/><line x1="22.80" x2="190.30" y1="473.40" y2="473.40" stroke-width="0.7"/><line x1="22.80" x2="190.30" y1="459.60" y2="459.60" stroke-width="0.55"/><line x1="22.80" x2="190.30" y1="445.80" y2="445.80" stroke-width="0.7"/><line x1="22.80" x2="190.30" y1="432.00" y2="432.00" stroke-width="0.55"/><line y1="424.20" y2="533.70" x1="30.41" x2="30.41" stroke-width="0.7"/><line y1="424.20" y2="533.70" x1="45.64" x2="45.64" stroke-width="0.55"/><line y1="424.20" y2="533.70" x1="60.87" x2="60.87" stroke-width="0.7"/><line y1="424.20" y2="533.70" x1="76.10" x2="76.10" stroke-width="0.55"/><line y1="424.20" y2="533.70" x1="91.32" x2="91.32" stroke-width="0.7"/><line y1="424.20" y2="533.70" x1="106.55" x2="106.55" stroke-width="0.55"/><line y1="424.20" y2="533.70" x1="121.78" x2="121.78" stroke-width="0.7"/><line y1="424.20" y2="533.70" x1="137.00" x2="137.00" stroke-width="0.55"/><line y1="424.20" y2="533.70" x1="152.23" x2="152.23" stroke-width="0.7"/><line y1="424.20" y2="533.70" x1="167.46" x2="167.46" stroke-width="0.55"/><line y1="424.20" y2="533.70" x1="182.69" x2="182.69" stroke-width="0.7"/></g>
<path d="M30.41,516.93 L31.94,516.66 L33.46,516.38 L34.98,516.10 L36.50,515.81 L38.03,515.51 L39.55,515.21 L41.07,514.89 L42.60,514.57 L44.12,514.25 L45.64,513.91 L47.16,513.57 L48.69,513.22 L50.21,512.87 L51.73,512.50 L53.25,512.12 L54.78,511.74 L56.30,511.35 L57.82,510.95 L59.35,510.54 L60.87,510.12 L62.39,509.69 L63.91,509.25 L65.44,508.80 L66.96,508.33 L68.48,507.86 L70.00,507.38 L71.53,506.89 L73.05,506.38 L74.57,505.86 L76.10,505.33 L77.62,504.79 L79.14,504.24 L80.66,503.67 L82.19,503.09 L83.71,502.50 L85.23,501.89 L86.75,501.27 L88.28,500.63 L89.80,499.98 L91.32,499.32 L92.85,498.64 L94.37,497.94 L95.89,497.22 L97.41,496.49 L98.94,495.75 L100.46,494.98 L101.98,494.20 L103.50,493.40 L105.03,492.58 L106.55,491.74 L108.07,490.88 L109.60,490.01 L111.12,489.11 L112.64,488.19 L114.16,487.25 L115.69,486.29 L117.21,485.30 L118.73,484.29 L120.25,483.26 L121.78,482.21 L123.30,481.13 L124.82,480.02 L126.35,478.89 L127.87,477.74 L129.39,476.55 L130.91,475.34 L132.44,474.10 L133.96,472.83 L135.48,471.54 L137.00,470.21 L138.53,468.85 L140.05,467.46 L141.57,466.04 L143.10,464.58 L144.62,463.09 L146.14,461.57 L147.66,460.01 L149.19,458.41 L150.71,456.78 L152.23,455.11 L153.75,453.39 L155.28,451.64 L156.80,449.85 L158.32,448.02 L159.85,446.15 L161.37,444.23 L162.89,442.26 L164.41,440.25 L165.94,438.20 L167.46,436.09 L168.98,433.94 L170.50,431.74 L172.03,429.49" fill="none" stroke="#3a3a92" stroke-width="1.15" stroke-linejoin="round" clip-path="url(#ci)"/>
<path d="M36.50,523.68 L38.03,519.18 L39.55,515.49 L41.07,512.38 L42.60,509.68 L44.12,507.30 L45.64,505.18 L47.16,503.25 L48.69,501.49 L50.21,499.88 L51.73,498.38 L53.25,496.99 L54.78,495.68 L56.30,494.46 L57.82,493.30 L59.35,492.21 L60.87,491.18 L62.39,490.19 L63.91,489.25 L65.44,488.35 L66.96,487.49 L68.48,486.67 L70.00,485.88 L71.53,485.11 L73.05,484.38 L74.57,483.67 L76.10,482.99 L77.62,482.32 L79.14,481.68 L80.66,481.06 L82.19,480.46 L83.71,479.87 L85.23,479.30 L86.75,478.75 L88.28,478.21 L89.80,477.69 L91.32,477.17 L92.85,476.68 L94.37,476.19 L95.89,475.71 L97.41,475.25 L98.94,474.80 L100.46,474.35 L101.98,473.92 L103.50,473.49 L105.03,473.08 L106.55,472.67 L108.07,472.27 L109.60,471.88 L111.12,471.49 L112.64,471.11 L114.16,470.74 L115.69,470.38 L117.21,470.02 L118.73,469.67 L120.25,469.32 L121.78,468.98 L123.30,468.65 L124.82,468.32 L126.35,468.00 L127.87,467.68 L129.39,467.37 L130.91,467.06 L132.44,466.76 L133.96,466.46 L135.48,466.16 L137.00,465.87 L138.53,465.58 L140.05,465.30 L141.57,465.02 L143.10,464.75 L144.62,464.48 L146.14,464.21 L147.66,463.95 L149.19,463.69 L150.71,463.43 L152.23,463.17 L153.75,462.92 L155.28,462.68 L156.80,462.43 L158.32,462.19 L159.85,461.95 L161.37,461.71 L162.89,461.48 L164.41,461.25 L165.94,461.02 L167.46,460.79 L168.98,460.57 L170.50,460.35 L172.03,460.13 L173.55,459.92 L175.07,459.70 L176.60,459.49 L178.12,459.28 L179.64,459.07 L181.16,458.87 L182.69,458.67" fill="none" stroke="#a04444" stroke-width="1.15" stroke-linejoin="round" clip-path="url(#ci)"/>
<circle cx="36.20" cy="521.98" r="1.25" fill="#000070"/>
<circle cx="65.44" cy="491.51" r="1.25" fill="#000070"/>
<circle cx="87.06" cy="480.69" r="1.25" fill="#000070"/>
<circle cx="121.78" cy="494.71" r="1.25" fill="#000070"/>
<circle cx="141.88" cy="487.64" r="1.25" fill="#000070"/>
<circle cx="156.19" cy="429.13" r="1.25" fill="#000070"/>
<circle cx="36.20" cy="527.50" r="1.25" fill="#700000"/>
<circle cx="65.44" cy="489.41" r="1.25" fill="#700000"/>
<circle cx="87.97" cy="450.33" r="1.25" fill="#700000"/>
<circle cx="120.56" cy="484.88" r="1.25" fill="#700000"/>
<circle cx="141.88" cy="490.40" r="1.25" fill="#700000"/>
<circle cx="155.28" cy="442.60" r="1.25" fill="#700000"/>
<rect x="22.80" y="424.20" width="167.50" height="109.50" fill="none" stroke="#999999" stroke-width="0.9"/>
<g stroke="#222222" stroke-width="0.6"><line x1="21.40" x2="22.80" y1="528.60" y2="528.60"/><line x1="21.40" x2="22.80" y1="501.00" y2="501.00"/><line x1="21.40" x2="22.80" y1="473.40" y2="473.40"/><line x1="21.40" x2="22.80" y1="445.80" y2="445.80"/><line y1="533.70" y2="535.10" x1="30.41" x2="30.41"/><line y1="533.70" y2="535.10" x1="60.87" x2="60.87"/><line y1="533.70" y2="535.10" x1="91.32" x2="91.32"/><line y1="533.70" y2="535.10" x1="121.78" x2="121.78"/><line y1="533.70" y2="535.10" x1="152.23" x2="152.23"/><line y1="533.70" y2="535.10" x1="182.69" x2="182.69"/></g>
<g font-size="4.5" fill="#333333" stroke="#333333" stroke-width="0.12"><text x="20.30" y="530.60" text-anchor="end">0</text><text x="20.30" y="503.00" text-anchor="end">250</text><text x="20.30" y="475.40" text-anchor="end">500</text><text x="20.30" y="447.80" text-anchor="end">750</text><text x="30.41" y="540.00" text-anchor="middle">0</text><text x="60.87" y="540.00" text-anchor="middle">10</text><text x="91.32" y="540.00" text-anchor="middle">20</text><text x="121.78" y="540.00" text-anchor="middle">30</text><text x="152.23" y="540.00" text-anchor="middle">40</text><text x="182.69" y="540.00" text-anchor="middle">50</text></g>
<text x="106.55" y="545.90" text-anchor="middle" font-size="5.65" fill="#111111" stroke="#111111" stroke-width="0.15">SWI</text>
<text transform="translate(9.20,478.95) rotate(-90)" text-anchor="middle" font-size="5.65" fill="#111111" stroke="#111111" stroke-width="0.15">Non-Vascular Biomass (g m<tspan font-size="4.5" dy="-2.2">&#8722;2</tspan><tspan dy="2.2">)</tspan></text>
<text x="22.30" y="420.30" font-size="7" fill="#222" stroke="#222" stroke-width="0.2">i</text>
<text x="78.70" y="461.50" font-size="5.5" fill="#8b0000" stroke="#8b0000" stroke-width="0.08"><tspan>y&#160;=&#160;182.96ln(x)&#160;-&#160;82.29</tspan></text>
<text x="94.80" y="467.60" font-size="5.5" fill="#8b0000" stroke="#8b0000" stroke-width="0.08"><tspan>R</tspan><tspan font-size="3.9" dy="-2.4">2</tspan><tspan dy="2.4">&#160;=&#160;0.51</tspan></text>
<text x="110.20" y="509.10" font-size="5.5" fill="#00008b" stroke="#00008b" stroke-width="0.13"><tspan>y&#160;=&#160;105.6847e</tspan><tspan font-size="3.9" dy="-2.4">(0.04601x)</tspan></text>
<text x="125.60" y="515.00" font-size="5.5" fill="#00008b" stroke="#00008b" stroke-width="0.13"><tspan>R</tspan><tspan font-size="3.9" dy="-2.4">2</tspan><tspan dy="2.4">&#160;=&#160;0.62</tspan></text>
<clipPath id="cj"><rect x="215.10" y="424.20" width="166.80" height="109.50"/></clipPath>
<g stroke="#e9e9e9"><line x1="215.10" x2="381.90" y1="528.30" y2="528.30" stroke-width="0.7"/><line x1="215.10" x2="381.90" y1="514.42" y2="514.42" stroke-width="0.55"/><line x1="215.10" x2="381.90" y1="500.55" y2="500.55" stroke-width="0.7"/><line x1="215.10" x2="381.90" y1="486.67" y2="486.67" stroke-width="0.55"/><line x1="215.10" x2="381.90" y1="472.80" y2="472.80" stroke-width="0.7"/><line x1="215.10" x2="381.90" y1="458.92" y2="458.92" stroke-width="0.55"/><line x1="215.10" x2="381.90" y1="445.05" y2="445.05" stroke-width="0.7"/><line x1="215.10" x2="381.90" y1="431.17" y2="431.17" stroke-width="0.55"/><line y1="424.20" y2="533.70" x1="222.68" x2="222.68" stroke-width="0.7"/><line y1="424.20" y2="533.70" x1="237.85" x2="237.85" stroke-width="0.55"/><line y1="424.20" y2="533.70" x1="253.01" x2="253.01" stroke-width="0.7"/><line y1="424.20" y2="533.70" x1="268.17" x2="268.17" stroke-width="0.55"/><line y1="424.20" y2="533.70" x1="283.34" x2="283.34" stroke-width="0.7"/><line y1="424.20" y2="533.70" x1="298.50" x2="298.50" stroke-width="0.55"/><line y1="424.20" y2="533.70" x1="313.66" x2="313.66" stroke-width="0.7"/><line y1="424.20" y2="533.70" x1="328.83" x2="328.83" stroke-width="0.55"/><line y1="424.20" y2="533.70" x1="343.99" x2="343.99" stroke-width="0.7"/><line y1="424.20" y2="533.70" x1="359.15" x2="359.15" stroke-width="0.55"/><line y1="424.20" y2="533.70" x1="374.32" x2="374.32" stroke-width="0.7"/></g>
<path d="M222.68,527.19 L224.20,527.14 L225.71,527.09 L227.23,527.04 L228.75,526.98 L230.26,526.92 L231.78,526.86 L233.30,526.80 L234.81,526.74 L236.33,526.67 L237.85,526.60 L239.36,526.52 L240.88,526.44 L242.39,526.36 L243.91,526.28 L245.43,526.19 L246.94,526.09 L248.46,526.00 L249.98,525.90 L251.49,525.79 L253.01,525.68 L254.53,525.57 L256.04,525.45 L257.56,525.32 L259.07,525.19 L260.59,525.06 L262.11,524.91 L263.62,524.77 L265.14,524.61 L266.66,524.45 L268.17,524.28 L269.69,524.10 L271.21,523.92 L272.72,523.73 L274.24,523.53 L275.75,523.32 L277.27,523.10 L278.79,522.87 L280.30,522.63 L281.82,522.39 L283.34,522.13 L284.85,521.86 L286.37,521.57 L287.89,521.28 L289.40,520.97 L290.92,520.65 L292.43,520.31 L293.95,519.96 L295.47,519.60 L296.98,519.22 L298.50,518.82 L300.02,518.40 L301.53,517.97 L303.05,517.52 L304.57,517.04 L306.08,516.55 L307.60,516.03 L309.11,515.50 L310.63,514.94 L312.15,514.35 L313.66,513.74 L315.18,513.10 L316.70,512.43 L318.21,511.74 L319.73,511.01 L321.25,510.26 L322.76,509.46 L324.28,508.64 L325.79,507.78 L327.31,506.88 L328.83,505.94 L330.34,504.96 L331.86,503.93 L333.38,502.87 L334.89,501.75 L336.41,500.59 L337.93,499.37 L339.44,498.11 L340.96,496.78 L342.47,495.40 L343.99,493.96 L345.51,492.45 L347.02,490.88 L348.54,489.24 L350.06,487.53 L351.57,485.74 L353.09,483.88 L354.61,481.93 L356.12,479.90 L357.64,477.78 L359.15,475.56 L360.67,473.25 L362.19,470.84 L363.70,468.32 L365.22,465.69 L366.74,462.94 L368.25,460.08 L369.77,457.09 L371.29,453.97 L372.80,450.71 L374.32,447.31" fill="none" stroke="#3a3a92" stroke-width="1.15" stroke-linejoin="round" clip-path="url(#cj)"/>
<path d="M222.68,527.41 L224.20,527.37 L225.71,527.33 L227.23,527.28 L228.75,527.23 L230.26,527.18 L231.78,527.13 L233.30,527.08 L234.81,527.02 L236.33,526.96 L237.85,526.90 L239.36,526.83 L240.88,526.76 L242.39,526.69 L243.91,526.61 L245.43,526.53 L246.94,526.45 L248.46,526.36 L249.98,526.27 L251.49,526.18 L253.01,526.08 L254.53,525.97 L256.04,525.87 L257.56,525.75 L259.07,525.63 L260.59,525.51 L262.11,525.37 L263.62,525.24 L265.14,525.09 L266.66,524.94 L268.17,524.79 L269.69,524.62 L271.21,524.45 L272.72,524.27 L274.24,524.08 L275.75,523.88 L277.27,523.67 L278.79,523.46 L280.30,523.23 L281.82,522.99 L283.34,522.74 L284.85,522.48 L286.37,522.21 L287.89,521.92 L289.40,521.62 L290.92,521.31 L292.43,520.98 L293.95,520.64 L295.47,520.28 L296.98,519.90 L298.50,519.51 L300.02,519.10 L301.53,518.66 L303.05,518.21 L304.57,517.74 L306.08,517.24 L307.60,516.73 L309.11,516.18 L310.63,515.61 L312.15,515.02 L313.66,514.40 L315.18,513.74 L316.70,513.06 L318.21,512.35 L319.73,511.60 L321.25,510.81 L322.76,509.99 L324.28,509.13 L325.79,508.23 L327.31,507.29 L328.83,506.31 L330.34,505.28 L331.86,504.20 L333.38,503.06 L334.89,501.88 L336.41,500.64 L337.93,499.34 L339.44,497.98 L340.96,496.56 L342.47,495.07 L343.99,493.51 L345.51,491.88 L347.02,490.17 L348.54,488.38 L350.06,486.51 L351.57,484.55 L353.09,482.50 L354.61,480.35 L356.12,478.10 L357.64,475.74 L359.15,473.28 L360.67,470.70 L362.19,467.99 L363.70,465.17 L365.22,462.20 L366.74,459.10 L368.25,455.86 L369.77,452.46 L371.29,448.90 L372.80,445.17 L374.32,441.27" fill="none" stroke="#a04444" stroke-width="1.15" stroke-linejoin="round" clip-path="url(#cj)"/>
<circle cx="257.25" cy="522.97" r="1.25" fill="#000070"/>
<circle cx="278.79" cy="520.09" r="1.25" fill="#000070"/>
<circle cx="313.66" cy="513.20" r="1.25" fill="#000070"/>
<circle cx="333.68" cy="487.45" r="1.25" fill="#000070"/>
<circle cx="347.93" cy="507.88" r="1.25" fill="#000070"/>
<circle cx="228.75" cy="527.86" r="1.25" fill="#700000"/>
<circle cx="257.25" cy="524.30" r="1.25" fill="#700000"/>
<circle cx="280.30" cy="516.87" r="1.25" fill="#700000"/>
<circle cx="312.15" cy="522.31" r="1.25" fill="#700000"/>
<circle cx="333.68" cy="507.54" r="1.25" fill="#700000"/>
<circle cx="347.02" cy="482.90" r="1.25" fill="#700000"/>
<rect x="215.10" y="424.20" width="166.80" height="109.50" fill="none" stroke="#999999" stroke-width="0.9"/>
<g stroke="#222222" stroke-width="0.6"><line x1="213.70" x2="215.10" y1="528.30" y2="528.30"/><line x1="213.70" x2="215.10" y1="500.55" y2="500.55"/><line x1="213.70" x2="215.10" y1="472.80" y2="472.80"/><line x1="213.70" x2="215.10" y1="445.05" y2="445.05"/><line y1="533.70" y2="535.10" x1="222.68" x2="222.68"/><line y1="533.70" y2="535.10" x1="253.01" x2="253.01"/><line y1="533.70" y2="535.10" x1="283.34" x2="283.34"/><line y1="533.70" y2="535.10" x1="313.66" x2="313.66"/><line y1="533.70" y2="535.10" x1="343.99" x2="343.99"/><line y1="533.70" y2="535.10" x1="374.32" x2="374.32"/></g>
<g font-size="4.5" fill="#333333" stroke="#333333" stroke-width="0.12"><text x="212.60" y="530.30" text-anchor="end">0</text><text x="212.60" y="502.55" text-anchor="end">250</text><text x="212.60" y="474.80" text-anchor="end">500</text><text x="212.60" y="447.05" text-anchor="end">750</text><text x="222.68" y="540.00" text-anchor="middle">0</text><text x="253.01" y="540.00" text-anchor="middle">10</text><text x="283.34" y="540.00" text-anchor="middle">20</text><text x="313.66" y="540.00" text-anchor="middle">30</text><text x="343.99" y="540.00" text-anchor="middle">40</text><text x="374.32" y="540.00" text-anchor="middle">50</text></g>
<text x="298.50" y="545.90" text-anchor="middle" font-size="5.65" fill="#111111" stroke="#111111" stroke-width="0.15">SWI</text>
<text transform="translate(200.87,478.95) rotate(-90)" text-anchor="middle" font-size="5.65" fill="#111111" stroke="#111111" stroke-width="0.15">Vascular Biomass (g m<tspan font-size="4.5" dy="-2.2">&#8722;2</tspan><tspan dy="2.2">)</tspan></text>
<text x="214.60" y="420.30" font-size="7" fill="#222" stroke="#222" stroke-width="0.2">j</text>
<text x="226.20" y="509.30" font-size="5.5" fill="#00008b" stroke="#00008b" stroke-width="0.13"><tspan>y&#160;=&#160;105.6847e</tspan><tspan font-size="3.9" dy="-2.4">(0.04601x)</tspan></text>
<text x="241.30" y="515.00" font-size="5.5" fill="#00008b" stroke="#00008b" stroke-width="0.13"><tspan>R</tspan><tspan font-size="3.9" dy="-2.4">2</tspan><tspan dy="2.4">&#160;=&#160;0.84</tspan></text>
<text x="308.00" y="461.80" font-size="5.5" fill="#8b0000" stroke="#8b0000" stroke-width="0.08"><tspan>y&#160;=&#160;105.6847e</tspan><tspan font-size="3.9" dy="-2.4">(0.04601x)</tspan></text>
<text x="324.00" y="467.60" font-size="5.5" fill="#8b0000" stroke="#8b0000" stroke-width="0.08"><tspan>R</tspan><tspan font-size="3.9" dy="-2.4">2</tspan><tspan dy="2.4">&#160;=&#160;0.82</tspan></text>
<circle cx="269.2" cy="563.3" r="1.25" fill="#000070"/>
<circle cx="295.5" cy="563.3" r="1.25" fill="#700000"/>
<text x="276.2" y="564.9" font-size="4.4" fill="#111111" stroke="#111111" stroke-width="0.12">Sandy</text>
<text x="302.3" y="564.9" font-size="4.4" fill="#111111" stroke="#111111" stroke-width="0.12">Loamy</text></svg>
</body></html>
